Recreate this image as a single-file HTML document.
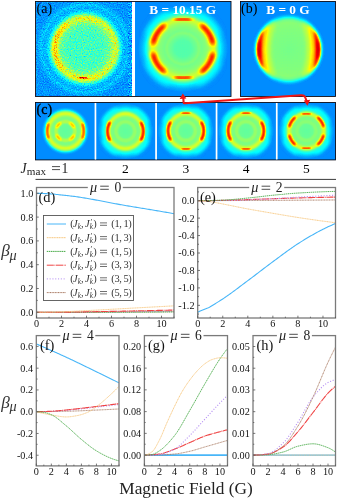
<!DOCTYPE html>
<html><head><meta charset="utf-8"><title>fig</title>
<style>html,body{margin:0;padding:0;background:#fff;overflow:hidden}svg{display:block}text{font-family:"Liberation Serif",serif}</style>
</head><body>
<svg width="337" height="500" viewBox="0 0 337 500" style="opacity:0.9999">
<defs>
<filter id="jet" x="0" y="0" width="100%" height="100%" color-interpolation-filters="sRGB"><feComponentTransfer>
<feFuncR type="table" tableValues="0 0 0 0 .5 1 1 1 .5"/>
<feFuncG type="table" tableValues="0 0 .5 1 1 1 .5 0 0"/>
<feFuncB type="table" tableValues=".5 1 1 1 .5 0 0 0 0"/>
</feComponentTransfer></filter>
<filter id="jetn" x="0" y="0" width="100%" height="100%" color-interpolation-filters="sRGB">
<feTurbulence type="fractalNoise" baseFrequency="0.85" numOctaves="2" seed="7" result="t"/>
<feColorMatrix in="t" type="matrix" values="1.2 0 0 0 -0.1  1.2 0 0 0 -0.1  1.2 0 0 0 -0.1  0 0 0 0 1" result="n"/>
<feComposite in="SourceGraphic" in2="n" operator="arithmetic" k1="0.6" k2="0.7" k3="0" k4="0"/>
<feComponentTransfer>
<feFuncR type="table" tableValues="0 0 0 0 .5 1 1 1 .5"/>
<feFuncG type="table" tableValues="0 0 .5 1 1 1 .5 0 0"/>
<feFuncB type="table" tableValues=".5 1 1 1 .5 0 0 0 0"/>
</feComponentTransfer></filter>
<filter id="jetn2" x="0" y="0" width="100%" height="100%" color-interpolation-filters="sRGB">
<feTurbulence type="fractalNoise" baseFrequency="0.9" numOctaves="2" seed="3" result="t"/>
<feColorMatrix in="t" type="matrix" values="1.2 0 0 0 -0.1  1.2 0 0 0 -0.1  1.2 0 0 0 -0.1  0 0 0 0 1" result="n"/>
<feComposite in="SourceGraphic" in2="n" operator="arithmetic" k1="1.5" k2="0.27" k3="0" k4="0"/>
<feComponentTransfer>
<feFuncR type="table" tableValues="0 0 0 0 .5 1 1 1 .5"/>
<feFuncG type="table" tableValues="0 0 .5 1 1 1 .5 0 0"/>
<feFuncB type="table" tableValues=".5 1 1 1 .5 0 0 0 0"/>
</feComponentTransfer></filter>
<filter id="b0_6" x="-50%" y="-50%" width="200%" height="200%" color-interpolation-filters="sRGB"><feGaussianBlur stdDeviation="0.6"/></filter>
<filter id="b0_8" x="-50%" y="-50%" width="200%" height="200%" color-interpolation-filters="sRGB"><feGaussianBlur stdDeviation="0.8"/></filter>
<filter id="b1" x="-50%" y="-50%" width="200%" height="200%" color-interpolation-filters="sRGB"><feGaussianBlur stdDeviation="1"/></filter>
<filter id="b1_2" x="-50%" y="-50%" width="200%" height="200%" color-interpolation-filters="sRGB"><feGaussianBlur stdDeviation="1.2"/></filter>
<filter id="b1_5" x="-50%" y="-50%" width="200%" height="200%" color-interpolation-filters="sRGB"><feGaussianBlur stdDeviation="1.5"/></filter>
<filter id="b2" x="-50%" y="-50%" width="200%" height="200%" color-interpolation-filters="sRGB"><feGaussianBlur stdDeviation="2"/></filter>
<filter id="b3" x="-50%" y="-50%" width="200%" height="200%" color-interpolation-filters="sRGB"><feGaussianBlur stdDeviation="3"/></filter>
<filter id="b4" x="-50%" y="-50%" width="200%" height="200%" color-interpolation-filters="sRGB"><feGaussianBlur stdDeviation="4"/></filter>
</defs>
<rect width="337" height="500" fill="#fff"/>
<clipPath id="cA"><rect x="36" y="1.5" width="96" height="94.5"/></clipPath>
<g clip-path="url(#cA)"><g filter="url(#jetn)">
<rect x="30" y="0" width="110" height="100" fill="rgb(69,69,69)"/>
<radialGradient id="rg1" gradientUnits="userSpaceOnUse" cx="0" cy="0" r="49"><stop offset="0.0000" stop-color="rgb(111,111,111)"/><stop offset="0.3673" stop-color="rgb(112,112,112)"/><stop offset="0.4898" stop-color="rgb(121,121,121)"/><stop offset="0.5714" stop-color="rgb(140,140,140)"/><stop offset="0.6224" stop-color="rgb(149,149,149)"/><stop offset="0.6633" stop-color="rgb(143,143,143)"/><stop offset="0.7041" stop-color="rgb(115,115,115)"/><stop offset="0.7449" stop-color="rgb(92,92,92)"/><stop offset="0.7959" stop-color="rgb(78,78,78)"/><stop offset="0.8469" stop-color="rgb(76,76,76)"/><stop offset="0.8878" stop-color="rgb(83,83,83)"/><stop offset="0.9388" stop-color="rgb(76,76,76)"/><stop offset="1.0000" stop-color="rgb(69,69,69)"/></radialGradient>
<g transform="translate(85,48.5) scale(1.0,1.0)"><circle cx="0" cy="0" r="49" fill="url(#rg1)"/></g>
<path d="M63.79,69.71A30,30 0 0 1 67.79,23.93" fill="none" stroke="rgb(176,176,176)" stroke-width="3.6" filter="url(#b1_5)"/>
<path d="M100.00,74.48A30,30 0 0 1 67.79,73.07" fill="none" stroke="rgb(161,161,161)" stroke-width="3" filter="url(#b1_5)"/>
<path d="M77.24,19.52A30,30 0 0 1 95.26,20.31" fill="none" stroke="rgb(163,163,163)" stroke-width="3" filter="url(#b1_5)"/>
<path d="M87.57,77.89A29.5,29.5 0 0 1 79.37,77.46" fill="none" stroke="rgb(242,242,242)" stroke-width="2.8" filter="url(#b1)"/>
</g></g>
<clipPath id="cA2"><rect x="127.6" y="1.5" width="4.4" height="94.5"/></clipPath>
<g clip-path="url(#cA2)"><g filter="url(#jetn2)">
<rect x="120" y="0" width="20" height="100" fill="rgb(71,71,71)"/>
</g></g>
<clipPath id="cB"><rect x="135" y="1.5" width="96" height="94.5"/></clipPath>
<g clip-path="url(#cB)"><g filter="url(#jet)">
<rect x="130" y="-3.5" width="106" height="104.5" fill="rgb(67,67,67)"/>
<radialGradient id="rg2" gradientUnits="userSpaceOnUse" cx="0" cy="0" r="43.5"><stop offset="0.0000" stop-color="rgb(116,116,116)"/><stop offset="0.1839" stop-color="rgb(117,117,117)"/><stop offset="0.2989" stop-color="rgb(124,124,124)"/><stop offset="0.3563" stop-color="rgb(129,129,129)"/><stop offset="0.4138" stop-color="rgb(125,125,125)"/><stop offset="0.5057" stop-color="rgb(129,129,129)"/><stop offset="0.5747" stop-color="rgb(135,135,135)"/><stop offset="0.6552" stop-color="rgb(149,149,149)"/><stop offset="0.7011" stop-color="rgb(148,148,148)"/><stop offset="0.7471" stop-color="rgb(128,128,128)"/><stop offset="0.7931" stop-color="rgb(107,107,107)"/><stop offset="0.8506" stop-color="rgb(89,89,89)"/><stop offset="0.9195" stop-color="rgb(76,76,76)"/><stop offset="1.0000" stop-color="rgb(67,67,67)"/></radialGradient>
<g transform="translate(183,48.6) scale(1.035,1.0)"><circle cx="0" cy="0" r="43.5" fill="url(#rg2)"/></g>
<path d="M198.85,14.61A37.5,37.5 0 0 1 216.99,32.75" fill="none" stroke="rgb(102,102,102)" stroke-width="5" stroke-linecap="round" filter="url(#b3)"/>
<path d="M216.99,64.45A37.5,37.5 0 0 1 198.85,82.59" fill="none" stroke="rgb(102,102,102)" stroke-width="5" stroke-linecap="round" filter="url(#b3)"/>
<path d="M167.15,82.59A37.5,37.5 0 0 1 149.01,64.45" fill="none" stroke="rgb(102,102,102)" stroke-width="5" stroke-linecap="round" filter="url(#b3)"/>
<path d="M149.01,32.75A37.5,37.5 0 0 1 167.15,14.61" fill="none" stroke="rgb(102,102,102)" stroke-width="5" stroke-linecap="round" filter="url(#b3)"/>
<g transform="translate(183,48.6) scale(1.035,1.0)">
<path d="M17.28,-23.79A29.4,29.4 0 0 1 29.11,-4.09" fill="none" stroke="rgb(247,247,247)" stroke-width="4.3" stroke-linecap="butt" filter="url(#b2)"/>
<path d="M29.11,4.09A29.4,29.4 0 0 1 17.28,23.79" fill="none" stroke="rgb(247,247,247)" stroke-width="4.3" stroke-linecap="butt" filter="url(#b2)"/>
<path d="M-17.28,23.79A29.4,29.4 0 0 1 -29.11,4.09" fill="none" stroke="rgb(247,247,247)" stroke-width="4.3" stroke-linecap="butt" filter="url(#b2)"/>
<path d="M-29.11,-4.09A29.4,29.4 0 0 1 -17.28,-23.79" fill="none" stroke="rgb(247,247,247)" stroke-width="4.3" stroke-linecap="butt" filter="url(#b2)"/>
<path d="M-8.10,-28.26A29.4,29.4 0 0 1 8.10,-28.26" fill="none" stroke="rgb(245,245,245)" stroke-width="3.5" stroke-linecap="butt" filter="url(#b2)"/>
<path d="M8.10,28.26A29.4,29.4 0 0 1 -8.10,28.26" fill="none" stroke="rgb(245,245,245)" stroke-width="3.5" stroke-linecap="butt" filter="url(#b2)"/>
</g>
</g></g>
<clipPath id="cC"><rect x="240.5" y="1.5" width="95" height="94.5"/></clipPath>
<g clip-path="url(#cC)"><g filter="url(#jet)">
<rect x="235" y="0" width="105" height="100" fill="rgb(67,67,67)"/>
<radialGradient id="rg3" gradientUnits="userSpaceOnUse" cx="0" cy="0" r="36.5"><stop offset="0.0000" stop-color="rgb(125,125,125)"/><stop offset="0.5479" stop-color="rgb(128,128,128)"/><stop offset="0.7397" stop-color="rgb(130,130,130)"/><stop offset="0.8082" stop-color="rgb(125,125,125)"/><stop offset="0.8630" stop-color="rgb(107,107,107)"/><stop offset="0.9041" stop-color="rgb(87,87,87)"/><stop offset="0.9589" stop-color="rgb(71,71,71)"/><stop offset="1.0000" stop-color="rgb(67,67,67)"/></radialGradient>
<g transform="translate(288.6,49.4) scale(1.0,0.995)"><circle cx="0" cy="0" r="36.5" fill="url(#rg3)"/></g>
<g transform="translate(288.6,49.4) rotate(0) scale(1,0.99)">
<path d="M12.69,-28.50A31.2,31.2 0 0 1 12.69,28.50A76.48,76.48 0 0 0 12.69,-28.50Z" fill="rgb(147,147,147)" filter="url(#b2)"/>
<path d="M19.33,-24.74A31.4,31.4 0 0 1 19.33,24.74A87.57,87.57 0 0 0 19.33,-24.74Z" fill="rgb(173,173,173)" filter="url(#b1_5)"/>
<path d="M24.90,-19.45A31.6,31.6 0 0 1 24.90,19.45A112.25,112.25 0 0 0 24.90,-19.45Z" fill="rgb(222,222,222)" filter="url(#b1_2)"/>
<path d="M28.57,-10.97A30.6,30.6 0 0 1 28.57,10.97A258.80,258.80 0 0 0 28.57,-10.97Z" fill="rgb(245,245,245)" filter="url(#b0_8)"/>
</g>
<g transform="translate(288.6,49.4) rotate(180) scale(1,0.99)">
<path d="M12.69,-28.50A31.2,31.2 0 0 1 12.69,28.50A76.48,76.48 0 0 0 12.69,-28.50Z" fill="rgb(147,147,147)" filter="url(#b2)"/>
<path d="M19.33,-24.74A31.4,31.4 0 0 1 19.33,24.74A87.57,87.57 0 0 0 19.33,-24.74Z" fill="rgb(173,173,173)" filter="url(#b1_5)"/>
<path d="M24.90,-19.45A31.6,31.6 0 0 1 24.90,19.45A112.25,112.25 0 0 0 24.90,-19.45Z" fill="rgb(222,222,222)" filter="url(#b1_2)"/>
<path d="M28.57,-10.97A30.6,30.6 0 0 1 28.57,10.97A258.80,258.80 0 0 0 28.57,-10.97Z" fill="rgb(245,245,245)" filter="url(#b0_8)"/>
</g>
</g></g>
<clipPath id="c1"><rect x="35.5" y="102.5" width="59.5" height="57.4"/></clipPath>
<g clip-path="url(#c1)"><g filter="url(#jet)">
<rect x="30.5" y="97.5" width="69.5" height="67.4" fill="rgb(67,67,67)"/>
<radialGradient id="rg4" gradientUnits="userSpaceOnUse" cx="0" cy="0" r="24"><stop offset="0.0000" stop-color="rgb(120,120,120)"/><stop offset="0.2667" stop-color="rgb(122,122,122)"/><stop offset="0.3583" stop-color="rgb(139,139,139)"/><stop offset="0.4250" stop-color="rgb(139,139,139)"/><stop offset="0.5000" stop-color="rgb(126,126,126)"/><stop offset="0.5833" stop-color="rgb(128,128,128)"/><stop offset="0.6458" stop-color="rgb(139,139,139)"/><stop offset="0.7000" stop-color="rgb(150,150,150)"/><stop offset="0.7500" stop-color="rgb(149,149,149)"/><stop offset="0.8000" stop-color="rgb(135,135,135)"/><stop offset="0.8417" stop-color="rgb(115,115,115)"/><stop offset="0.8875" stop-color="rgb(87,87,87)"/><stop offset="0.9500" stop-color="rgb(72,72,72)"/><stop offset="1.0000" stop-color="rgb(67,67,67)"/></radialGradient>
<g transform="translate(65.5,131.0) scale(1.0,1.0)"><circle cx="0" cy="0" r="24" fill="url(#rg4)"/></g>
<path d="M56.67,127.09A9.6,9.6 0 0 1 60.21,123.16" fill="none" stroke="rgb(199,199,199)" stroke-width="1.8" stroke-linecap="round" filter="url(#b0_8)"/>
<path d="M70.39,123.16A9.6,9.6 0 0 1 73.93,127.09" fill="none" stroke="rgb(199,199,199)" stroke-width="1.8" stroke-linecap="round" filter="url(#b0_8)"/>
<path d="M73.93,135.51A9.6,9.6 0 0 1 70.39,139.44" fill="none" stroke="rgb(199,199,199)" stroke-width="1.8" stroke-linecap="round" filter="url(#b0_8)"/>
<path d="M60.21,139.44A9.6,9.6 0 0 1 56.67,135.51" fill="none" stroke="rgb(199,199,199)" stroke-width="1.8" stroke-linecap="round" filter="url(#b0_8)"/>
<g transform="translate(65.5,131.0) scale(1.0,1.0)">
<path d="M16.68,-7.78A18.4,18.4 0 0 1 16.68,7.78" fill="none" stroke="rgb(224,224,224)" stroke-width="2.2" stroke-linecap="butt" filter="url(#b0_8)"/>
<path d="M-16.68,7.78A18.4,18.4 0 0 1 -16.68,-7.78" fill="none" stroke="rgb(224,224,224)" stroke-width="2.2" stroke-linecap="butt" filter="url(#b0_8)"/>
</g>
</g></g>
<clipPath id="c2"><rect x="96" y="102.5" width="60" height="57.4"/></clipPath>
<g clip-path="url(#c2)"><g filter="url(#jet)">
<rect x="91" y="97.5" width="70" height="67.4" fill="rgb(67,67,67)"/>
<radialGradient id="rg5" gradientUnits="userSpaceOnUse" cx="0" cy="0" r="28"><stop offset="0.0000" stop-color="rgb(120,120,120)"/><stop offset="0.2286" stop-color="rgb(122,122,122)"/><stop offset="0.3071" stop-color="rgb(133,133,133)"/><stop offset="0.3643" stop-color="rgb(133,133,133)"/><stop offset="0.4286" stop-color="rgb(126,126,126)"/><stop offset="0.5000" stop-color="rgb(128,128,128)"/><stop offset="0.5536" stop-color="rgb(139,139,139)"/><stop offset="0.6000" stop-color="rgb(150,150,150)"/><stop offset="0.6429" stop-color="rgb(149,149,149)"/><stop offset="0.6857" stop-color="rgb(135,135,135)"/><stop offset="0.7214" stop-color="rgb(115,115,115)"/><stop offset="0.7679" stop-color="rgb(102,102,102)"/><stop offset="0.8393" stop-color="rgb(88,88,88)"/><stop offset="0.9107" stop-color="rgb(76,76,76)"/><stop offset="1.0000" stop-color="rgb(67,67,67)"/></radialGradient>
<g transform="translate(125.4,131.2) scale(1.0,1.0)"><circle cx="0" cy="0" r="28" fill="url(#rg5)"/></g>
<path d="M135.33,109.90A23.5,23.5 0 0 1 146.70,121.27" fill="none" stroke="rgb(105,105,105)" stroke-width="3.5" stroke-linecap="round" filter="url(#b2)"/>
<path d="M146.70,141.13A23.5,23.5 0 0 1 135.33,152.50" fill="none" stroke="rgb(105,105,105)" stroke-width="3.5" stroke-linecap="round" filter="url(#b2)"/>
<path d="M115.47,152.50A23.5,23.5 0 0 1 104.10,141.13" fill="none" stroke="rgb(105,105,105)" stroke-width="3.5" stroke-linecap="round" filter="url(#b2)"/>
<path d="M104.10,121.27A23.5,23.5 0 0 1 115.47,109.90" fill="none" stroke="rgb(105,105,105)" stroke-width="3.5" stroke-linecap="round" filter="url(#b2)"/>
<g transform="translate(125.4,131.2) scale(1.0,1.0)">
<path d="M15.26,-9.54A18.0,18.0 0 0 1 15.26,9.54" fill="none" stroke="rgb(237,237,237)" stroke-width="2.8" stroke-linecap="butt" filter="url(#b0_8)"/>
<path d="M-15.26,9.54A18.0,18.0 0 0 1 -15.26,-9.54" fill="none" stroke="rgb(237,237,237)" stroke-width="2.8" stroke-linecap="butt" filter="url(#b0_8)"/>
</g>
</g></g>
<clipPath id="c3"><rect x="156.5" y="102.5" width="60" height="57.4"/></clipPath>
<g clip-path="url(#c3)"><g filter="url(#jet)">
<rect x="151.5" y="97.5" width="70" height="67.4" fill="rgb(67,67,67)"/>
<radialGradient id="rg6" gradientUnits="userSpaceOnUse" cx="0" cy="0" r="28"><stop offset="0.0000" stop-color="rgb(120,120,120)"/><stop offset="0.2286" stop-color="rgb(122,122,122)"/><stop offset="0.3071" stop-color="rgb(133,133,133)"/><stop offset="0.3643" stop-color="rgb(133,133,133)"/><stop offset="0.4286" stop-color="rgb(126,126,126)"/><stop offset="0.5000" stop-color="rgb(128,128,128)"/><stop offset="0.5536" stop-color="rgb(139,139,139)"/><stop offset="0.6000" stop-color="rgb(150,150,150)"/><stop offset="0.6429" stop-color="rgb(149,149,149)"/><stop offset="0.6857" stop-color="rgb(135,135,135)"/><stop offset="0.7214" stop-color="rgb(115,115,115)"/><stop offset="0.7679" stop-color="rgb(102,102,102)"/><stop offset="0.8393" stop-color="rgb(88,88,88)"/><stop offset="0.9107" stop-color="rgb(76,76,76)"/><stop offset="1.0000" stop-color="rgb(67,67,67)"/></radialGradient>
<g transform="translate(185.9,131.0) scale(1.0,1.0)"><circle cx="0" cy="0" r="28" fill="url(#rg6)"/></g>
<path d="M195.83,109.70A23.5,23.5 0 0 1 207.20,121.07" fill="none" stroke="rgb(105,105,105)" stroke-width="3.5" stroke-linecap="round" filter="url(#b2)"/>
<path d="M207.20,140.93A23.5,23.5 0 0 1 195.83,152.30" fill="none" stroke="rgb(105,105,105)" stroke-width="3.5" stroke-linecap="round" filter="url(#b2)"/>
<path d="M175.97,152.30A23.5,23.5 0 0 1 164.60,140.93" fill="none" stroke="rgb(105,105,105)" stroke-width="3.5" stroke-linecap="round" filter="url(#b2)"/>
<path d="M164.60,121.07A23.5,23.5 0 0 1 175.97,109.70" fill="none" stroke="rgb(105,105,105)" stroke-width="3.5" stroke-linecap="round" filter="url(#b2)"/>
<g transform="translate(185.9,131.0) scale(1.0,1.0)">
<path d="M15.18,-9.49A17.9,17.9 0 0 1 15.18,9.49" fill="none" stroke="rgb(237,237,237)" stroke-width="2.8" stroke-linecap="butt" filter="url(#b0_8)"/>
<path d="M-15.18,9.49A17.9,17.9 0 0 1 -15.18,-9.49" fill="none" stroke="rgb(237,237,237)" stroke-width="2.8" stroke-linecap="butt" filter="url(#b0_8)"/>
<path d="M-4.33,-17.37A17.9,17.9 0 0 1 4.33,-17.37" fill="none" stroke="rgb(230,230,230)" stroke-width="2.2" stroke-linecap="butt" filter="url(#b0_8)"/>
<path d="M4.33,17.37A17.9,17.9 0 0 1 -4.33,17.37" fill="none" stroke="rgb(230,230,230)" stroke-width="2.2" stroke-linecap="butt" filter="url(#b0_8)"/>
</g>
</g></g>
<clipPath id="c4"><rect x="217" y="102.5" width="59.5" height="57.4"/></clipPath>
<g clip-path="url(#c4)"><g filter="url(#jet)">
<rect x="212" y="97.5" width="69.5" height="67.4" fill="rgb(67,67,67)"/>
<radialGradient id="rg7" gradientUnits="userSpaceOnUse" cx="0" cy="0" r="28"><stop offset="0.0000" stop-color="rgb(120,120,120)"/><stop offset="0.2286" stop-color="rgb(122,122,122)"/><stop offset="0.3071" stop-color="rgb(133,133,133)"/><stop offset="0.3643" stop-color="rgb(133,133,133)"/><stop offset="0.4286" stop-color="rgb(126,126,126)"/><stop offset="0.5000" stop-color="rgb(128,128,128)"/><stop offset="0.5536" stop-color="rgb(139,139,139)"/><stop offset="0.6000" stop-color="rgb(150,150,150)"/><stop offset="0.6429" stop-color="rgb(149,149,149)"/><stop offset="0.6857" stop-color="rgb(135,135,135)"/><stop offset="0.7214" stop-color="rgb(115,115,115)"/><stop offset="0.7679" stop-color="rgb(102,102,102)"/><stop offset="0.8393" stop-color="rgb(88,88,88)"/><stop offset="0.9107" stop-color="rgb(76,76,76)"/><stop offset="1.0000" stop-color="rgb(67,67,67)"/></radialGradient>
<g transform="translate(246.0,131.0) scale(1.0,1.0)"><circle cx="0" cy="0" r="28" fill="url(#rg7)"/></g>
<path d="M255.93,109.70A23.5,23.5 0 0 1 267.30,121.07" fill="none" stroke="rgb(105,105,105)" stroke-width="3.5" stroke-linecap="round" filter="url(#b2)"/>
<path d="M267.30,140.93A23.5,23.5 0 0 1 255.93,152.30" fill="none" stroke="rgb(105,105,105)" stroke-width="3.5" stroke-linecap="round" filter="url(#b2)"/>
<path d="M236.07,152.30A23.5,23.5 0 0 1 224.70,140.93" fill="none" stroke="rgb(105,105,105)" stroke-width="3.5" stroke-linecap="round" filter="url(#b2)"/>
<path d="M224.70,121.07A23.5,23.5 0 0 1 236.07,109.70" fill="none" stroke="rgb(105,105,105)" stroke-width="3.5" stroke-linecap="round" filter="url(#b2)"/>
<g transform="translate(246.0,131.0) scale(1.0,1.0)">
<path d="M15.18,-9.49A17.9,17.9 0 0 1 15.18,9.49" fill="none" stroke="rgb(237,237,237)" stroke-width="2.8" stroke-linecap="butt" filter="url(#b0_8)"/>
<path d="M-15.18,9.49A17.9,17.9 0 0 1 -15.18,-9.49" fill="none" stroke="rgb(237,237,237)" stroke-width="2.8" stroke-linecap="butt" filter="url(#b0_8)"/>
<path d="M-4.33,-17.37A17.9,17.9 0 0 1 4.33,-17.37" fill="none" stroke="rgb(230,230,230)" stroke-width="2.2" stroke-linecap="butt" filter="url(#b0_8)"/>
<path d="M4.33,17.37A17.9,17.9 0 0 1 -4.33,17.37" fill="none" stroke="rgb(230,230,230)" stroke-width="2.2" stroke-linecap="butt" filter="url(#b0_8)"/>
</g>
</g></g>
<clipPath id="c5"><rect x="277" y="102.5" width="58.5" height="57.4"/></clipPath>
<g clip-path="url(#c5)"><g filter="url(#jet)">
<rect x="272" y="97.5" width="68.5" height="67.4" fill="rgb(67,67,67)"/>
<radialGradient id="rg8" gradientUnits="userSpaceOnUse" cx="0" cy="0" r="28"><stop offset="0.0000" stop-color="rgb(120,120,120)"/><stop offset="0.2286" stop-color="rgb(122,122,122)"/><stop offset="0.3071" stop-color="rgb(130,130,130)"/><stop offset="0.3643" stop-color="rgb(130,130,130)"/><stop offset="0.4286" stop-color="rgb(126,126,126)"/><stop offset="0.5000" stop-color="rgb(128,128,128)"/><stop offset="0.5536" stop-color="rgb(139,139,139)"/><stop offset="0.6000" stop-color="rgb(150,150,150)"/><stop offset="0.6429" stop-color="rgb(149,149,149)"/><stop offset="0.6857" stop-color="rgb(135,135,135)"/><stop offset="0.7214" stop-color="rgb(115,115,115)"/><stop offset="0.7679" stop-color="rgb(102,102,102)"/><stop offset="0.8393" stop-color="rgb(88,88,88)"/><stop offset="0.9107" stop-color="rgb(76,76,76)"/><stop offset="1.0000" stop-color="rgb(67,67,67)"/></radialGradient>
<g transform="translate(306.4,131.0) scale(1.0,1.0)"><circle cx="0" cy="0" r="28" fill="url(#rg8)"/></g>
<path d="M316.33,109.70A23.5,23.5 0 0 1 327.70,121.07" fill="none" stroke="rgb(105,105,105)" stroke-width="3.5" stroke-linecap="round" filter="url(#b2)"/>
<path d="M327.70,140.93A23.5,23.5 0 0 1 316.33,152.30" fill="none" stroke="rgb(105,105,105)" stroke-width="3.5" stroke-linecap="round" filter="url(#b2)"/>
<path d="M296.47,152.30A23.5,23.5 0 0 1 285.10,140.93" fill="none" stroke="rgb(105,105,105)" stroke-width="3.5" stroke-linecap="round" filter="url(#b2)"/>
<path d="M285.10,121.07A23.5,23.5 0 0 1 296.47,109.70" fill="none" stroke="rgb(105,105,105)" stroke-width="3.5" stroke-linecap="round" filter="url(#b2)"/>
<g transform="translate(306.4,131.0) scale(1.0,1.0)">
<path d="M10.90,-13.95A17.7,17.7 0 0 1 17.31,-3.68" fill="none" stroke="rgb(235,235,235)" stroke-width="2.6" stroke-linecap="butt" filter="url(#b0_8)"/>
<path d="M17.31,3.68A17.7,17.7 0 0 1 10.90,13.95" fill="none" stroke="rgb(235,235,235)" stroke-width="2.6" stroke-linecap="butt" filter="url(#b0_8)"/>
<path d="M-10.90,13.95A17.7,17.7 0 0 1 -17.31,3.68" fill="none" stroke="rgb(235,235,235)" stroke-width="2.6" stroke-linecap="butt" filter="url(#b0_8)"/>
<path d="M-17.31,-3.68A17.7,17.7 0 0 1 -10.90,-13.95" fill="none" stroke="rgb(235,235,235)" stroke-width="2.6" stroke-linecap="butt" filter="url(#b0_8)"/>
<path d="M-4.28,-17.17A17.7,17.7 0 0 1 4.28,-17.17" fill="none" stroke="rgb(230,230,230)" stroke-width="2.2" stroke-linecap="butt" filter="url(#b0_8)"/>
<path d="M4.28,17.17A17.7,17.7 0 0 1 -4.28,17.17" fill="none" stroke="rgb(230,230,230)" stroke-width="2.2" stroke-linecap="butt" filter="url(#b0_8)"/>
</g>
</g></g>
<rect x="35.5" y="1.5" width="195.5" height="95.0" fill="none" stroke="#0c0c18" stroke-width="0.9"/>
<rect x="240.5" y="1.5" width="95.0" height="95.0" fill="none" stroke="#0c0c18" stroke-width="0.9"/>
<rect x="35.5" y="102.5" width="300.0" height="57.400000000000006" fill="none" stroke="#0c0c18" stroke-width="0.9"/>
<rect x="132" y="2" width="3" height="94" fill="#fff"/>
<rect x="94.6" y="103" width="1.7" height="56.4" fill="#fff"/>
<rect x="155.2" y="103" width="1.7" height="56.4" fill="#fff"/>
<rect x="215.7" y="103" width="1.7" height="56.4" fill="#fff"/>
<rect x="275.9" y="103" width="1.7" height="56.4" fill="#fff"/>
<text x="36.5" y="12.6" font-size="14">(a)</text>
<text x="241" y="12.6" font-size="14">(b)</text>
<text x="36.5" y="113.6" font-size="14" stroke="#000" stroke-width="0.3">(c)</text>
<text x="149.3" y="14" font-size="13.3" font-weight="bold" fill="#fff">B = 10.15 G</text>
<text x="266.2" y="14" font-size="13.3" font-weight="bold" fill="#fff">B = 0 G</text>
<path d="M183.2,96 L183.6,102.3 Q183.7,103.3 185,103.2 L301,95.3 Q304.5,95 305.3,97.5 L306.6,101" fill="none" stroke="#ee1515" stroke-width="2.1" stroke-linejoin="round"/>
<path d="M182.8,93.4 L186.4,98.6 L179.6,98.9 Z" fill="#ee1515"/>
<path d="M307.4,105.8 L303.8,100.4 L310.2,99.7 Z" fill="#ee1515"/>
<text y="172.7" font-size="13.6" fill="#222"><tspan x="20.6" font-style="italic">J</tspan><tspan x="26.8" font-size="10.6" dy="2.6" textLength="19.2" lengthAdjust="spacingAndGlyphs">max</tspan><tspan dy="-2.6" x="61.6">1</tspan></text>
<path d="M52,166.6h8M52,169.6h8" stroke="#222" stroke-width="0.8" fill="none"/>
<text x="125.3" y="172.7" font-size="13.5" text-anchor="middle">2</text>
<text x="185.8" y="172.7" font-size="13.5" text-anchor="middle">3</text>
<text x="246.0" y="172.7" font-size="13.5" text-anchor="middle">4</text>
<text x="306.4" y="172.7" font-size="13.5" text-anchor="middle">5</text>
<line x1="35.5" y1="179.4" x2="336" y2="179.4" stroke="#3a3a3a" stroke-width="1"/>
<clipPath id="pd"><rect x="36.5" y="187.5" width="137.5" height="130.5"/></clipPath>
<g clip-path="url(#pd)" fill="none" stroke-linejoin="round">
<path d="M36.50,312.30 L37.75,312.30 L39.00,312.30 L40.25,312.29 L41.50,312.29 L42.75,312.29 L44.00,312.29 L45.25,312.28 L46.50,312.28 L47.75,312.28 L49.00,312.28 L50.25,312.27 L51.50,312.27 L52.75,312.27 L54.00,312.26 L55.25,312.26 L56.50,312.26 L57.75,312.25 L59.00,312.25 L60.25,312.25 L61.50,312.24 L62.75,312.24 L64.00,312.23 L65.25,312.23 L66.50,312.23 L67.75,312.22 L69.00,312.22 L70.25,312.21 L71.50,312.21 L72.75,312.21 L74.00,312.20 L75.25,312.20 L76.50,312.19 L77.75,312.19 L79.00,312.18 L80.25,312.18 L81.50,312.18 L82.75,312.17 L84.00,312.17 L85.25,312.16 L86.50,312.16 L87.75,312.15 L89.00,312.15 L90.25,312.14 L91.50,312.14 L92.75,312.13 L94.00,312.13 L95.25,312.12 L96.50,312.12 L97.75,312.11 L99.00,312.10 L100.25,312.10 L101.50,312.09 L102.75,312.08 L104.00,312.08 L105.25,312.07 L106.50,312.07 L107.75,312.06 L109.00,312.05 L110.25,312.04 L111.50,312.04 L112.75,312.03 L114.00,312.02 L115.25,312.02 L116.50,312.01 L117.75,312.00 L119.00,311.99 L120.25,311.99 L121.50,311.98 L122.75,311.97 L124.00,311.96 L125.25,311.96 L126.50,311.95 L127.75,311.94 L129.00,311.93 L130.25,311.92 L131.50,311.92 L132.75,311.91 L134.00,311.90 L135.25,311.89 L136.50,311.88 L137.75,311.88 L139.00,311.87 L140.25,311.86 L141.50,311.85 L142.75,311.84 L144.00,311.83 L145.25,311.82 L146.50,311.81 L147.75,311.80 L149.00,311.80 L150.25,311.79 L151.50,311.78 L152.75,311.77 L154.00,311.76 L155.25,311.75 L156.50,311.74 L157.75,311.73 L159.00,311.72 L160.25,311.71 L161.50,311.69 L162.75,311.68 L164.00,311.67 L165.25,311.66 L166.50,311.65 L167.75,311.64 L169.00,311.63 L170.25,311.62 L171.50,311.61 L172.75,311.60 L174.00,311.59" stroke="#a7775f" stroke-width="0.9" stroke-dasharray="1.1,0.5"/>
<path d="M36.50,312.30 L37.75,312.30 L39.00,312.30 L40.25,312.30 L41.50,312.30 L42.75,312.30 L44.00,312.29 L45.25,312.29 L46.50,312.29 L47.75,312.29 L49.00,312.28 L50.25,312.28 L51.50,312.28 L52.75,312.27 L54.00,312.27 L55.25,312.27 L56.50,312.26 L57.75,312.26 L59.00,312.25 L60.25,312.25 L61.50,312.24 L62.75,312.24 L64.00,312.23 L65.25,312.23 L66.50,312.22 L67.75,312.22 L69.00,312.21 L70.25,312.21 L71.50,312.20 L72.75,312.19 L74.00,312.19 L75.25,312.18 L76.50,312.17 L77.75,312.17 L79.00,312.16 L80.25,312.15 L81.50,312.15 L82.75,312.14 L84.00,312.13 L85.25,312.13 L86.50,312.12 L87.75,312.11 L89.00,312.11 L90.25,312.10 L91.50,312.09 L92.75,312.08 L94.00,312.07 L95.25,312.06 L96.50,312.05 L97.75,312.04 L99.00,312.03 L100.25,312.02 L101.50,312.01 L102.75,311.99 L104.00,311.98 L105.25,311.97 L106.50,311.96 L107.75,311.94 L109.00,311.93 L110.25,311.92 L111.50,311.90 L112.75,311.89 L114.00,311.87 L115.25,311.86 L116.50,311.84 L117.75,311.83 L119.00,311.81 L120.25,311.80 L121.50,311.78 L122.75,311.76 L124.00,311.75 L125.25,311.73 L126.50,311.72 L127.75,311.70 L129.00,311.68 L130.25,311.67 L131.50,311.65 L132.75,311.63 L134.00,311.62 L135.25,311.60 L136.50,311.59 L137.75,311.57 L139.00,311.55 L140.25,311.54 L141.50,311.52 L142.75,311.50 L144.00,311.48 L145.25,311.47 L146.50,311.45 L147.75,311.43 L149.00,311.41 L150.25,311.39 L151.50,311.37 L152.75,311.35 L154.00,311.33 L155.25,311.31 L156.50,311.29 L157.75,311.27 L159.00,311.25 L160.25,311.23 L161.50,311.21 L162.75,311.19 L164.00,311.17 L165.25,311.15 L166.50,311.12 L167.75,311.10 L169.00,311.08 L170.25,311.06 L171.50,311.04 L172.75,311.01 L174.00,310.99" stroke="#b690f3" stroke-width="1.1" stroke-dasharray="1.1,1.7"/>
<path d="M36.50,312.30 L37.75,312.30 L39.00,312.30 L40.25,312.30 L41.50,312.30 L42.75,312.30 L44.00,312.30 L45.25,312.30 L46.50,312.30 L47.75,312.30 L49.00,312.30 L50.25,312.30 L51.50,312.30 L52.75,312.30 L54.00,312.30 L55.25,312.30 L56.50,312.30 L57.75,312.30 L59.00,312.30 L60.25,312.30 L61.50,312.30 L62.75,312.30 L64.00,312.30 L65.25,312.30 L66.50,312.30 L67.75,312.30 L69.00,312.30 L70.25,312.30 L71.50,312.30 L72.75,312.30 L74.00,312.30 L75.25,312.30 L76.50,312.30 L77.75,312.30 L79.00,312.30 L80.25,312.30 L81.50,312.30 L82.75,312.30 L84.00,312.30 L85.25,312.30 L86.50,312.30 L87.75,312.30 L89.00,312.30 L90.25,312.30 L91.50,312.30 L92.75,312.30 L94.00,312.30 L95.25,312.29 L96.50,312.29 L97.75,312.29 L99.00,312.29 L100.25,312.29 L101.50,312.29 L102.75,312.28 L104.00,312.28 L105.25,312.28 L106.50,312.28 L107.75,312.27 L109.00,312.27 L110.25,312.27 L111.50,312.26 L112.75,312.26 L114.00,312.26 L115.25,312.25 L116.50,312.25 L117.75,312.24 L119.00,312.24 L120.25,312.24 L121.50,312.23 L122.75,312.23 L124.00,312.22 L125.25,312.22 L126.50,312.22 L127.75,312.21 L129.00,312.21 L130.25,312.20 L131.50,312.20 L132.75,312.19 L134.00,312.19 L135.25,312.19 L136.50,312.18 L137.75,312.18 L139.00,312.17 L140.25,312.17 L141.50,312.16 L142.75,312.15 L144.00,312.15 L145.25,312.14 L146.50,312.14 L147.75,312.13 L149.00,312.12 L150.25,312.11 L151.50,312.11 L152.75,312.10 L154.00,312.09 L155.25,312.08 L156.50,312.07 L157.75,312.07 L159.00,312.06 L160.25,312.05 L161.50,312.04 L162.75,312.03 L164.00,312.02 L165.25,312.01 L166.50,312.00 L167.75,311.99 L169.00,311.98 L170.25,311.97 L171.50,311.96 L172.75,311.95 L174.00,311.94" stroke="#43a843" stroke-width="0.9" stroke-dasharray="1.5,0.6"/>
<path d="M36.50,312.30 L37.75,312.30 L39.00,312.30 L40.25,312.30 L41.50,312.29 L42.75,312.29 L44.00,312.29 L45.25,312.28 L46.50,312.28 L47.75,312.27 L49.00,312.26 L50.25,312.26 L51.50,312.25 L52.75,312.24 L54.00,312.23 L55.25,312.22 L56.50,312.22 L57.75,312.21 L59.00,312.20 L60.25,312.19 L61.50,312.18 L62.75,312.17 L64.00,312.16 L65.25,312.15 L66.50,312.13 L67.75,312.12 L69.00,312.10 L70.25,312.09 L71.50,312.07 L72.75,312.05 L74.00,312.03 L75.25,312.01 L76.50,311.99 L77.75,311.97 L79.00,311.95 L80.25,311.93 L81.50,311.91 L82.75,311.89 L84.00,311.86 L85.25,311.84 L86.50,311.82 L87.75,311.80 L89.00,311.78 L90.25,311.76 L91.50,311.74 L92.75,311.72 L94.00,311.70 L95.25,311.68 L96.50,311.66 L97.75,311.63 L99.00,311.61 L100.25,311.59 L101.50,311.57 L102.75,311.54 L104.00,311.52 L105.25,311.50 L106.50,311.47 L107.75,311.45 L109.00,311.42 L110.25,311.40 L111.50,311.38 L112.75,311.35 L114.00,311.33 L115.25,311.30 L116.50,311.28 L117.75,311.25 L119.00,311.23 L120.25,311.20 L121.50,311.18 L122.75,311.15 L124.00,311.13 L125.25,311.10 L126.50,311.08 L127.75,311.05 L129.00,311.03 L130.25,311.00 L131.50,310.97 L132.75,310.95 L134.00,310.92 L135.25,310.90 L136.50,310.87 L137.75,310.85 L139.00,310.82 L140.25,310.79 L141.50,310.77 L142.75,310.74 L144.00,310.71 L145.25,310.69 L146.50,310.66 L147.75,310.63 L149.00,310.61 L150.25,310.58 L151.50,310.55 L152.75,310.52 L154.00,310.50 L155.25,310.47 L156.50,310.44 L157.75,310.41 L159.00,310.39 L160.25,310.36 L161.50,310.33 L162.75,310.30 L164.00,310.27 L165.25,310.24 L166.50,310.21 L167.75,310.19 L169.00,310.16 L170.25,310.13 L171.50,310.10 L172.75,310.07 L174.00,310.04" stroke="#ef4444" stroke-width="1.1" stroke-dasharray="7,0.6,1,0.6"/>
<path d="M36.50,312.30 L37.75,312.29 L39.00,312.28 L40.25,312.27 L41.50,312.26 L42.75,312.24 L44.00,312.22 L45.25,312.20 L46.50,312.18 L47.75,312.16 L49.00,312.13 L50.25,312.11 L51.50,312.08 L52.75,312.05 L54.00,312.02 L55.25,311.99 L56.50,311.96 L57.75,311.92 L59.00,311.89 L60.25,311.86 L61.50,311.82 L62.75,311.79 L64.00,311.75 L65.25,311.70 L66.50,311.65 L67.75,311.60 L69.00,311.55 L70.25,311.49 L71.50,311.43 L72.75,311.37 L74.00,311.30 L75.25,311.24 L76.50,311.17 L77.75,311.10 L79.00,311.03 L80.25,310.97 L81.50,310.90 L82.75,310.83 L84.00,310.76 L85.25,310.70 L86.50,310.63 L87.75,310.57 L89.00,310.51 L90.25,310.44 L91.50,310.38 L92.75,310.31 L94.00,310.25 L95.25,310.18 L96.50,310.11 L97.75,310.05 L99.00,309.98 L100.25,309.91 L101.50,309.84 L102.75,309.77 L104.00,309.71 L105.25,309.64 L106.50,309.57 L107.75,309.50 L109.00,309.43 L110.25,309.36 L111.50,309.29 L112.75,309.22 L114.00,309.15 L115.25,309.08 L116.50,309.01 L117.75,308.94 L119.00,308.87 L120.25,308.80 L121.50,308.73 L122.75,308.66 L124.00,308.59 L125.25,308.52 L126.50,308.45 L127.75,308.38 L129.00,308.31 L130.25,308.24 L131.50,308.17 L132.75,308.10 L134.00,308.03 L135.25,307.97 L136.50,307.90 L137.75,307.83 L139.00,307.76 L140.25,307.69 L141.50,307.63 L142.75,307.56 L144.00,307.49 L145.25,307.42 L146.50,307.35 L147.75,307.29 L149.00,307.22 L150.25,307.15 L151.50,307.08 L152.75,307.02 L154.00,306.95 L155.25,306.88 L156.50,306.81 L157.75,306.75 L159.00,306.68 L160.25,306.61 L161.50,306.55 L162.75,306.48 L164.00,306.41 L165.25,306.34 L166.50,306.28 L167.75,306.21 L169.00,306.14 L170.25,306.08 L171.50,306.01 L172.75,305.94 L174.00,305.87" stroke="#f7c77f" stroke-width="0.9" stroke-dasharray="1.3,0.4"/>
<path d="M36.50,193.30 L37.75,193.32 L39.00,193.34 L40.25,193.38 L41.50,193.42 L42.75,193.47 L44.00,193.52 L45.25,193.58 L46.50,193.64 L47.75,193.71 L49.00,193.78 L50.25,193.85 L51.50,193.95 L52.75,194.05 L54.00,194.17 L55.25,194.29 L56.50,194.43 L57.75,194.56 L59.00,194.70 L60.25,194.83 L61.50,194.97 L62.75,195.10 L64.00,195.23 L65.25,195.36 L66.50,195.50 L67.75,195.64 L69.00,195.78 L70.25,195.93 L71.50,196.08 L72.75,196.23 L74.00,196.39 L75.25,196.56 L76.50,196.73 L77.75,196.91 L79.00,197.10 L80.25,197.29 L81.50,197.49 L82.75,197.69 L84.00,197.89 L85.25,198.09 L86.50,198.30 L87.75,198.51 L89.00,198.72 L90.25,198.94 L91.50,199.17 L92.75,199.40 L94.00,199.63 L95.25,199.86 L96.50,200.09 L97.75,200.33 L99.00,200.56 L100.25,200.79 L101.50,201.03 L102.75,201.27 L104.00,201.51 L105.25,201.75 L106.50,201.99 L107.75,202.23 L109.00,202.48 L110.25,202.72 L111.50,202.96 L112.75,203.20 L114.00,203.44 L115.25,203.68 L116.50,203.91 L117.75,204.14 L119.00,204.37 L120.25,204.59 L121.50,204.81 L122.75,205.03 L124.00,205.24 L125.25,205.46 L126.50,205.67 L127.75,205.88 L129.00,206.09 L130.25,206.30 L131.50,206.51 L132.75,206.72 L134.00,206.92 L135.25,207.13 L136.50,207.34 L137.75,207.55 L139.00,207.76 L140.25,207.96 L141.50,208.17 L142.75,208.38 L144.00,208.58 L145.25,208.79 L146.50,208.99 L147.75,209.19 L149.00,209.40 L150.25,209.60 L151.50,209.81 L152.75,210.02 L154.00,210.23 L155.25,210.44 L156.50,210.65 L157.75,210.86 L159.00,211.07 L160.25,211.28 L161.50,211.49 L162.75,211.71 L164.00,211.92 L165.25,212.13 L166.50,212.35 L167.75,212.56 L169.00,212.78 L170.25,213.00 L171.50,213.21 L172.75,213.43 L174.00,213.65" stroke="#48b6f8" stroke-width="1.1"/>
</g>
<rect x="36.5" y="187.5" width="137.5" height="130.5" fill="none" stroke="#7a7a7a" stroke-width="1.3"/>
<path d="M36.50,318v-2.3M49.00,318v-1.3M61.50,318v-2.3M74.00,318v-1.3M86.50,318v-2.3M99.00,318v-1.3M111.50,318v-2.3M124.00,318v-1.3M136.50,318v-2.3M149.00,318v-1.3M161.50,318v-2.3M174.00,318v-1.3M36.5,312.30h2.3M36.5,300.40h1.3M36.5,288.50h2.3M36.5,276.60h1.3M36.5,264.70h2.3M36.5,252.80h1.3M36.5,240.90h2.3M36.5,229.00h1.3M36.5,217.10h2.3M36.5,205.20h1.3M36.5,193.30h2.3" stroke="#555" stroke-width="0.8" fill="none"/>
<text x="36.5" y="326.9" font-size="10.2" text-anchor="middle" fill="#111">0</text>
<text x="61.5" y="326.9" font-size="10.2" text-anchor="middle" fill="#111">2</text>
<text x="86.5" y="326.9" font-size="10.2" text-anchor="middle" fill="#111">4</text>
<text x="111.5" y="326.9" font-size="10.2" text-anchor="middle" fill="#111">6</text>
<text x="136.5" y="326.9" font-size="10.2" text-anchor="middle" fill="#111">8</text>
<text x="161.5" y="326.9" font-size="10.2" text-anchor="middle" fill="#111">10</text>
<text x="33.3" y="315.7" font-size="10.2" text-anchor="end" fill="#111">0.0</text>
<text x="33.3" y="291.9" font-size="10.2" text-anchor="end" fill="#111">0.2</text>
<text x="33.3" y="268.1" font-size="10.2" text-anchor="end" fill="#111">0.4</text>
<text x="33.3" y="244.3" font-size="10.2" text-anchor="end" fill="#111">0.6</text>
<text x="33.3" y="220.5" font-size="10.2" text-anchor="end" fill="#111">0.8</text>
<text x="33.3" y="196.7" font-size="10.2" text-anchor="end" fill="#111">1.0</text>
<rect x="87.8" y="181.5" width="35" height="12" fill="#fff"/>
<text y="191.8" font-size="13.6" fill="#222"><tspan x="90.0" font-style="italic" font-size="14.2">μ</tspan><tspan x="114.5">0</tspan></text>
<path d="M100.2,186.2h8.6M100.2,189.3h8.6" stroke="#222" stroke-width="0.8" fill="none"/>
<text x="38.5" y="202.1" font-size="14.4" fill="#111">(d)</text>
<clipPath id="pe"><rect x="197.7" y="187.5" width="137.8" height="130.5"/></clipPath>
<g clip-path="url(#pe)" fill="none" stroke-linejoin="round">
<path d="M197.70,200.65 L198.95,200.65 L200.21,200.64 L201.46,200.64 L202.71,200.64 L203.96,200.63 L205.22,200.63 L206.47,200.63 L207.72,200.62 L208.97,200.62 L210.23,200.61 L211.48,200.61 L212.73,200.61 L213.99,200.60 L215.24,200.60 L216.49,200.59 L217.74,200.59 L219.00,200.59 L220.25,200.58 L221.50,200.58 L222.75,200.57 L224.01,200.57 L225.26,200.56 L226.51,200.56 L227.77,200.55 L229.02,200.55 L230.27,200.55 L231.52,200.54 L232.78,200.54 L234.03,200.53 L235.28,200.53 L236.53,200.52 L237.79,200.52 L239.04,200.51 L240.29,200.51 L241.55,200.50 L242.80,200.50 L244.05,200.49 L245.30,200.49 L246.56,200.48 L247.81,200.48 L249.06,200.47 L250.31,200.46 L251.57,200.46 L252.82,200.45 L254.07,200.45 L255.33,200.44 L256.58,200.44 L257.83,200.43 L259.08,200.43 L260.34,200.42 L261.59,200.41 L262.84,200.41 L264.09,200.40 L265.35,200.39 L266.60,200.39 L267.85,200.38 L269.11,200.38 L270.36,200.37 L271.61,200.36 L272.86,200.36 L274.12,200.35 L275.37,200.34 L276.62,200.34 L277.87,200.33 L279.13,200.32 L280.38,200.32 L281.63,200.31 L282.89,200.30 L284.14,200.29 L285.39,200.29 L286.64,200.28 L287.90,200.27 L289.15,200.27 L290.40,200.26 L291.65,200.25 L292.91,200.24 L294.16,200.24 L295.41,200.23 L296.67,200.22 L297.92,200.21 L299.17,200.21 L300.42,200.20 L301.68,200.19 L302.93,200.18 L304.18,200.17 L305.43,200.17 L306.69,200.16 L307.94,200.15 L309.19,200.14 L310.45,200.13 L311.70,200.13 L312.95,200.12 L314.20,200.11 L315.46,200.10 L316.71,200.09 L317.96,200.08 L319.21,200.07 L320.47,200.06 L321.72,200.06 L322.97,200.05 L324.23,200.04 L325.48,200.03 L326.73,200.02 L327.98,200.01 L329.24,200.00 L330.49,199.99 L331.74,199.98 L332.99,199.97 L334.25,199.96 L335.50,199.95" stroke="#a7775f" stroke-width="0.9" stroke-dasharray="1.1,0.5"/>
<path d="M197.70,200.65 L198.95,200.65 L200.21,200.65 L201.46,200.64 L202.71,200.64 L203.96,200.63 L205.22,200.62 L206.47,200.61 L207.72,200.60 L208.97,200.58 L210.23,200.57 L211.48,200.55 L212.73,200.54 L213.99,200.52 L215.24,200.50 L216.49,200.48 L217.74,200.47 L219.00,200.45 L220.25,200.43 L221.50,200.41 L222.75,200.39 L224.01,200.37 L225.26,200.34 L226.51,200.31 L227.77,200.28 L229.02,200.25 L230.27,200.21 L231.52,200.17 L232.78,200.13 L234.03,200.09 L235.28,200.05 L236.53,200.01 L237.79,199.96 L239.04,199.92 L240.29,199.87 L241.55,199.82 L242.80,199.78 L244.05,199.73 L245.30,199.69 L246.56,199.65 L247.81,199.60 L249.06,199.56 L250.31,199.52 L251.57,199.48 L252.82,199.43 L254.07,199.39 L255.33,199.35 L256.58,199.30 L257.83,199.26 L259.08,199.21 L260.34,199.17 L261.59,199.12 L262.84,199.08 L264.09,199.03 L265.35,198.99 L266.60,198.94 L267.85,198.90 L269.11,198.86 L270.36,198.81 L271.61,198.77 L272.86,198.73 L274.12,198.69 L275.37,198.65 L276.62,198.61 L277.87,198.56 L279.13,198.52 L280.38,198.48 L281.63,198.44 L282.89,198.40 L284.14,198.36 L285.39,198.32 L286.64,198.28 L287.90,198.24 L289.15,198.20 L290.40,198.16 L291.65,198.12 L292.91,198.09 L294.16,198.05 L295.41,198.01 L296.67,197.98 L297.92,197.95 L299.17,197.91 L300.42,197.88 L301.68,197.85 L302.93,197.81 L304.18,197.78 L305.43,197.75 L306.69,197.71 L307.94,197.68 L309.19,197.65 L310.45,197.62 L311.70,197.59 L312.95,197.56 L314.20,197.53 L315.46,197.50 L316.71,197.47 L317.96,197.44 L319.21,197.41 L320.47,197.38 L321.72,197.35 L322.97,197.33 L324.23,197.30 L325.48,197.27 L326.73,197.25 L327.98,197.22 L329.24,197.19 L330.49,197.17 L331.74,197.14 L332.99,197.12 L334.25,197.10 L335.50,197.07" stroke="#ef4444" stroke-width="1.1" stroke-dasharray="7,0.6,1,0.6"/>
<path d="M197.70,200.65 L198.95,200.65 L200.21,200.65 L201.46,200.64 L202.71,200.64 L203.96,200.64 L205.22,200.63 L206.47,200.62 L207.72,200.61 L208.97,200.61 L210.23,200.60 L211.48,200.59 L212.73,200.58 L213.99,200.56 L215.24,200.55 L216.49,200.54 L217.74,200.53 L219.00,200.52 L220.25,200.50 L221.50,200.49 L222.75,200.48 L224.01,200.46 L225.26,200.44 L226.51,200.42 L227.77,200.40 L229.02,200.38 L230.27,200.35 L231.52,200.33 L232.78,200.30 L234.03,200.27 L235.28,200.24 L236.53,200.20 L237.79,200.17 L239.04,200.13 L240.29,200.10 L241.55,200.06 L242.80,200.02 L244.05,199.98 L245.30,199.94 L246.56,199.90 L247.81,199.86 L249.06,199.82 L250.31,199.78 L251.57,199.73 L252.82,199.69 L254.07,199.64 L255.33,199.59 L256.58,199.53 L257.83,199.48 L259.08,199.42 L260.34,199.36 L261.59,199.30 L262.84,199.24 L264.09,199.18 L265.35,199.12 L266.60,199.06 L267.85,198.99 L269.11,198.93 L270.36,198.86 L271.61,198.80 L272.86,198.73 L274.12,198.66 L275.37,198.59 L276.62,198.52 L277.87,198.45 L279.13,198.37 L280.38,198.29 L281.63,198.21 L282.89,198.13 L284.14,198.05 L285.39,197.96 L286.64,197.88 L287.90,197.80 L289.15,197.71 L290.40,197.63 L291.65,197.55 L292.91,197.47 L294.16,197.39 L295.41,197.31 L296.67,197.23 L297.92,197.16 L299.17,197.09 L300.42,197.02 L301.68,196.94 L302.93,196.87 L304.18,196.80 L305.43,196.73 L306.69,196.66 L307.94,196.59 L309.19,196.52 L310.45,196.45 L311.70,196.38 L312.95,196.31 L314.20,196.24 L315.46,196.18 L316.71,196.11 L317.96,196.04 L319.21,195.98 L320.47,195.91 L321.72,195.84 L322.97,195.78 L324.23,195.71 L325.48,195.65 L326.73,195.59 L327.98,195.52 L329.24,195.46 L330.49,195.40 L331.74,195.34 L332.99,195.27 L334.25,195.21 L335.50,195.15" stroke="#b690f3" stroke-width="1.1" stroke-dasharray="1.1,1.7"/>
<path d="M197.70,200.65 L198.95,200.65 L200.21,200.64 L201.46,200.63 L202.71,200.62 L203.96,200.61 L205.22,200.59 L206.47,200.57 L207.72,200.55 L208.97,200.52 L210.23,200.49 L211.48,200.46 L212.73,200.43 L213.99,200.40 L215.24,200.36 L216.49,200.33 L217.74,200.29 L219.00,200.25 L220.25,200.21 L221.50,200.17 L222.75,200.13 L224.01,200.08 L225.26,200.02 L226.51,199.95 L227.77,199.88 L229.02,199.79 L230.27,199.70 L231.52,199.60 L232.78,199.50 L234.03,199.39 L235.28,199.27 L236.53,199.16 L237.79,199.03 L239.04,198.91 L240.29,198.78 L241.55,198.66 L242.80,198.53 L244.05,198.40 L245.30,198.28 L246.56,198.15 L247.81,198.03 L249.06,197.91 L250.31,197.78 L251.57,197.65 L252.82,197.51 L254.07,197.37 L255.33,197.23 L256.58,197.09 L257.83,196.94 L259.08,196.79 L260.34,196.64 L261.59,196.49 L262.84,196.35 L264.09,196.20 L265.35,196.05 L266.60,195.91 L267.85,195.77 L269.11,195.63 L270.36,195.50 L271.61,195.37 L272.86,195.24 L274.12,195.12 L275.37,194.99 L276.62,194.87 L277.87,194.75 L279.13,194.63 L280.38,194.50 L281.63,194.38 L282.89,194.26 L284.14,194.15 L285.39,194.03 L286.64,193.92 L287.90,193.81 L289.15,193.70 L290.40,193.60 L291.65,193.50 L292.91,193.40 L294.16,193.31 L295.41,193.22 L296.67,193.14 L297.92,193.06 L299.17,192.98 L300.42,192.91 L301.68,192.84 L302.93,192.76 L304.18,192.69 L305.43,192.62 L306.69,192.55 L307.94,192.48 L309.19,192.41 L310.45,192.35 L311.70,192.28 L312.95,192.22 L314.20,192.16 L315.46,192.09 L316.71,192.04 L317.96,191.98 L319.21,191.92 L320.47,191.87 L321.72,191.82 L322.97,191.77 L324.23,191.72 L325.48,191.67 L326.73,191.63 L327.98,191.59 L329.24,191.55 L330.49,191.52 L331.74,191.48 L332.99,191.45 L334.25,191.43 L335.50,191.40" stroke="#43a843" stroke-width="0.9" stroke-dasharray="1.5,0.6"/>
<path d="M197.70,200.65 L198.95,200.70 L200.21,200.77 L201.46,200.85 L202.71,200.94 L203.96,201.05 L205.22,201.16 L206.47,201.29 L207.72,201.42 L208.97,201.56 L210.23,201.70 L211.48,201.86 L212.73,202.04 L213.99,202.25 L215.24,202.48 L216.49,202.72 L217.74,202.96 L219.00,203.22 L220.25,203.47 L221.50,203.72 L222.75,203.97 L224.01,204.20 L225.26,204.45 L226.51,204.69 L227.77,204.94 L229.02,205.19 L230.27,205.44 L231.52,205.69 L232.78,205.95 L234.03,206.21 L235.28,206.46 L236.53,206.72 L237.79,206.97 L239.04,207.23 L240.29,207.48 L241.55,207.73 L242.80,207.98 L244.05,208.22 L245.30,208.47 L246.56,208.70 L247.81,208.94 L249.06,209.17 L250.31,209.40 L251.57,209.63 L252.82,209.85 L254.07,210.07 L255.33,210.30 L256.58,210.51 L257.83,210.73 L259.08,210.95 L260.34,211.17 L261.59,211.38 L262.84,211.60 L264.09,211.81 L265.35,212.02 L266.60,212.24 L267.85,212.45 L269.11,212.66 L270.36,212.87 L271.61,213.09 L272.86,213.30 L274.12,213.52 L275.37,213.73 L276.62,213.95 L277.87,214.16 L279.13,214.38 L280.38,214.59 L281.63,214.81 L282.89,215.02 L284.14,215.24 L285.39,215.45 L286.64,215.66 L287.90,215.87 L289.15,216.08 L290.40,216.29 L291.65,216.50 L292.91,216.70 L294.16,216.90 L295.41,217.10 L296.67,217.30 L297.92,217.49 L299.17,217.68 L300.42,217.87 L301.68,218.06 L302.93,218.25 L304.18,218.44 L305.43,218.62 L306.69,218.81 L307.94,218.99 L309.19,219.17 L310.45,219.36 L311.70,219.54 L312.95,219.72 L314.20,219.90 L315.46,220.07 L316.71,220.25 L317.96,220.42 L319.21,220.60 L320.47,220.77 L321.72,220.94 L322.97,221.11 L324.23,221.28 L325.48,221.44 L326.73,221.61 L327.98,221.77 L329.24,221.94 L330.49,222.10 L331.74,222.26 L332.99,222.41 L334.25,222.57 L335.50,222.72" stroke="#f7c77f" stroke-width="0.9" stroke-dasharray="1.3,0.4"/>
<path d="M197.70,312.16 L198.95,311.63 L200.21,311.11 L201.46,310.59 L202.71,310.06 L203.96,309.54 L205.22,309.03 L206.47,308.55 L207.72,308.04 L208.97,307.49 L210.23,306.83 L211.48,306.05 L212.73,305.27 L213.99,304.49 L215.24,303.70 L216.49,302.91 L217.74,302.13 L219.00,301.36 L220.25,300.59 L221.50,299.80 L222.75,298.98 L224.01,298.14 L225.26,297.29 L226.51,296.42 L227.77,295.54 L229.02,294.65 L230.27,293.75 L231.52,292.84 L232.78,291.92 L234.03,291.00 L235.28,290.07 L236.53,289.13 L237.79,288.19 L239.04,287.25 L240.29,286.30 L241.55,285.36 L242.80,284.41 L244.05,283.47 L245.30,282.53 L246.56,281.59 L247.81,280.66 L249.06,279.72 L250.31,278.79 L251.57,277.84 L252.82,276.90 L254.07,275.95 L255.33,274.99 L256.58,274.04 L257.83,273.08 L259.08,272.13 L260.34,271.17 L261.59,270.21 L262.84,269.26 L264.09,268.30 L265.35,267.35 L266.60,266.40 L267.85,265.46 L269.11,264.52 L270.36,263.58 L271.61,262.65 L272.86,261.73 L274.12,260.80 L275.37,259.87 L276.62,258.94 L277.87,258.01 L279.13,257.08 L280.38,256.14 L281.63,255.21 L282.89,254.28 L284.14,253.36 L285.39,252.44 L286.64,251.52 L287.90,250.62 L289.15,249.72 L290.40,248.83 L291.65,247.95 L292.91,247.08 L294.16,246.23 L295.41,245.39 L296.67,244.56 L297.92,243.75 L299.17,242.95 L300.42,242.16 L301.68,241.38 L302.93,240.60 L304.18,239.83 L305.43,239.06 L306.69,238.31 L307.94,237.56 L309.19,236.82 L310.45,236.09 L311.70,235.37 L312.95,234.65 L314.20,233.95 L315.46,233.25 L316.71,232.56 L317.96,231.88 L319.21,231.21 L320.47,230.56 L321.72,229.91 L322.97,229.27 L324.23,228.64 L325.48,228.03 L326.73,227.42 L327.98,226.83 L329.24,226.25 L330.49,225.69 L331.74,225.13 L332.99,224.58 L334.25,224.04 L335.50,223.51" stroke="#48b6f8" stroke-width="1.1"/>
</g>
<rect x="197.7" y="187.5" width="137.8" height="130.5" fill="none" stroke="#7a7a7a" stroke-width="1.3"/>
<path d="M197.70,318v-2.3M210.23,318v-1.3M222.75,318v-2.3M235.28,318v-1.3M247.81,318v-2.3M260.34,318v-1.3M272.86,318v-2.3M285.39,318v-1.3M297.92,318v-2.3M310.45,318v-1.3M322.97,318v-2.3M335.50,318v-1.3M197.7,191.93h1.3M197.7,200.65h2.3M197.7,209.38h1.3M197.7,218.10h2.3M197.7,226.83h1.3M197.7,235.55h2.3M197.7,244.28h1.3M197.7,253.00h2.3M197.7,261.73h1.3M197.7,270.45h2.3M197.7,279.18h1.3M197.7,287.90h2.3M197.7,296.62h1.3M197.7,305.35h2.3M197.7,314.07h1.3" stroke="#555" stroke-width="0.8" fill="none"/>
<text x="197.7" y="326.9" font-size="10.2" text-anchor="middle" fill="#111">0</text>
<text x="222.8" y="326.9" font-size="10.2" text-anchor="middle" fill="#111">2</text>
<text x="247.8" y="326.9" font-size="10.2" text-anchor="middle" fill="#111">4</text>
<text x="272.9" y="326.9" font-size="10.2" text-anchor="middle" fill="#111">6</text>
<text x="297.9" y="326.9" font-size="10.2" text-anchor="middle" fill="#111">8</text>
<text x="323.0" y="326.9" font-size="10.2" text-anchor="middle" fill="#111">10</text>
<text x="194.5" y="204.1" font-size="10.2" text-anchor="end" fill="#111">0.0</text>
<text x="194.5" y="221.5" font-size="10.2" text-anchor="end" fill="#111">-0.2</text>
<text x="194.5" y="239.0" font-size="10.2" text-anchor="end" fill="#111">-0.4</text>
<text x="194.5" y="256.4" font-size="10.2" text-anchor="end" fill="#111">-0.6</text>
<text x="194.5" y="273.8" font-size="10.2" text-anchor="end" fill="#111">-0.8</text>
<text x="194.5" y="291.3" font-size="10.2" text-anchor="end" fill="#111">-1.0</text>
<text x="194.5" y="308.8" font-size="10.2" text-anchor="end" fill="#111">-1.2</text>
<rect x="249.2" y="181.5" width="35" height="12" fill="#fff"/>
<text y="191.8" font-size="13.6" fill="#222"><tspan x="251.3" font-style="italic" font-size="14.2">μ</tspan><tspan x="275.8">2</tspan></text>
<path d="M261.6,186.2h8.6M261.6,189.3h8.6" stroke="#222" stroke-width="0.8" fill="none"/>
<text x="199.9" y="202.1" font-size="14.4" fill="#111">(e)</text>
<clipPath id="pf"><rect x="36.3" y="335.6" width="82.7" height="130.29999999999995"/></clipPath>
<g clip-path="url(#pf)" fill="none" stroke-linejoin="round">
<path d="M36.30,411.70 L37.05,411.70 L37.80,411.70 L38.56,411.69 L39.31,411.69 L40.06,411.68 L40.81,411.68 L41.56,411.67 L42.31,411.67 L43.07,411.66 L43.82,411.65 L44.57,411.65 L45.32,411.64 L46.07,411.63 L46.83,411.62 L47.58,411.61 L48.33,411.60 L49.08,411.59 L49.83,411.58 L50.58,411.57 L51.34,411.56 L52.09,411.54 L52.84,411.53 L53.59,411.52 L54.34,411.50 L55.10,411.49 L55.85,411.48 L56.60,411.46 L57.35,411.45 L58.10,411.43 L58.85,411.42 L59.61,411.41 L60.36,411.39 L61.11,411.37 L61.86,411.36 L62.61,411.34 L63.37,411.33 L64.12,411.31 L64.87,411.30 L65.62,411.28 L66.37,411.26 L67.12,411.25 L67.88,411.23 L68.63,411.21 L69.38,411.19 L70.13,411.17 L70.88,411.15 L71.64,411.12 L72.39,411.10 L73.14,411.08 L73.89,411.05 L74.64,411.02 L75.39,411.00 L76.15,410.97 L76.90,410.94 L77.65,410.91 L78.40,410.88 L79.15,410.85 L79.91,410.82 L80.66,410.78 L81.41,410.75 L82.16,410.72 L82.91,410.69 L83.66,410.65 L84.42,410.62 L85.17,410.58 L85.92,410.55 L86.67,410.51 L87.42,410.48 L88.18,410.45 L88.93,410.41 L89.68,410.38 L90.43,410.34 L91.18,410.31 L91.93,410.27 L92.69,410.24 L93.44,410.20 L94.19,410.17 L94.94,410.13 L95.69,410.10 L96.45,410.07 L97.20,410.03 L97.95,410.00 L98.70,409.97 L99.45,409.93 L100.20,409.90 L100.96,409.87 L101.71,409.83 L102.46,409.80 L103.21,409.76 L103.96,409.73 L104.72,409.69 L105.47,409.66 L106.22,409.62 L106.97,409.58 L107.72,409.55 L108.47,409.51 L109.23,409.47 L109.98,409.44 L110.73,409.40 L111.48,409.36 L112.23,409.32 L112.99,409.29 L113.74,409.25 L114.49,409.21 L115.24,409.17 L115.99,409.13 L116.74,409.10 L117.50,409.06 L118.25,409.02 L119.00,408.98" stroke="#a7775f" stroke-width="0.9" stroke-dasharray="1.1,0.5"/>
<path d="M36.30,411.70 L37.05,411.70 L37.80,411.70 L38.56,411.69 L39.31,411.69 L40.06,411.68 L40.81,411.68 L41.56,411.67 L42.31,411.66 L43.07,411.65 L43.82,411.64 L44.57,411.62 L45.32,411.61 L46.07,411.60 L46.83,411.58 L47.58,411.57 L48.33,411.55 L49.08,411.53 L49.83,411.52 L50.58,411.50 L51.34,411.48 L52.09,411.46 L52.84,411.43 L53.59,411.40 L54.34,411.36 L55.10,411.32 L55.85,411.27 L56.60,411.22 L57.35,411.17 L58.10,411.11 L58.85,411.05 L59.61,410.99 L60.36,410.93 L61.11,410.86 L61.86,410.79 L62.61,410.73 L63.37,410.66 L64.12,410.59 L64.87,410.53 L65.62,410.46 L66.37,410.39 L67.12,410.33 L67.88,410.26 L68.63,410.20 L69.38,410.13 L70.13,410.06 L70.88,409.98 L71.64,409.91 L72.39,409.84 L73.14,409.76 L73.89,409.68 L74.64,409.61 L75.39,409.53 L76.15,409.45 L76.90,409.37 L77.65,409.28 L78.40,409.20 L79.15,409.12 L79.91,409.03 L80.66,408.95 L81.41,408.86 L82.16,408.78 L82.91,408.69 L83.66,408.61 L84.42,408.52 L85.17,408.43 L85.92,408.35 L86.67,408.26 L87.42,408.17 L88.18,408.08 L88.93,408.00 L89.68,407.91 L90.43,407.82 L91.18,407.73 L91.93,407.65 L92.69,407.56 L93.44,407.47 L94.19,407.39 L94.94,407.30 L95.69,407.22 L96.45,407.13 L97.20,407.05 L97.95,406.96 L98.70,406.88 L99.45,406.79 L100.20,406.71 L100.96,406.62 L101.71,406.54 L102.46,406.45 L103.21,406.36 L103.96,406.28 L104.72,406.19 L105.47,406.10 L106.22,406.02 L106.97,405.93 L107.72,405.84 L108.47,405.76 L109.23,405.67 L109.98,405.58 L110.73,405.49 L111.48,405.41 L112.23,405.32 L112.99,405.23 L113.74,405.14 L114.49,405.05 L115.24,404.96 L115.99,404.88 L116.74,404.79 L117.50,404.70 L118.25,404.61 L119.00,404.52" stroke="#b690f3" stroke-width="1.1" stroke-dasharray="1.1,1.7"/>
<path d="M36.30,411.70 L37.05,411.70 L37.80,411.69 L38.56,411.69 L39.31,411.68 L40.06,411.66 L40.81,411.65 L41.56,411.63 L42.31,411.61 L43.07,411.59 L43.82,411.56 L44.57,411.54 L45.32,411.51 L46.07,411.48 L46.83,411.45 L47.58,411.42 L48.33,411.39 L49.08,411.36 L49.83,411.33 L50.58,411.30 L51.34,411.26 L52.09,411.23 L52.84,411.19 L53.59,411.14 L54.34,411.09 L55.10,411.04 L55.85,410.98 L56.60,410.92 L57.35,410.85 L58.10,410.78 L58.85,410.71 L59.61,410.64 L60.36,410.57 L61.11,410.49 L61.86,410.42 L62.61,410.34 L63.37,410.26 L64.12,410.19 L64.87,410.11 L65.62,410.03 L66.37,409.96 L67.12,409.89 L67.88,409.81 L68.63,409.73 L69.38,409.66 L70.13,409.58 L70.88,409.50 L71.64,409.42 L72.39,409.34 L73.14,409.26 L73.89,409.17 L74.64,409.09 L75.39,409.00 L76.15,408.92 L76.90,408.83 L77.65,408.75 L78.40,408.66 L79.15,408.57 L79.91,408.48 L80.66,408.39 L81.41,408.30 L82.16,408.21 L82.91,408.12 L83.66,408.03 L84.42,407.94 L85.17,407.85 L85.92,407.76 L86.67,407.67 L87.42,407.58 L88.18,407.49 L88.93,407.39 L89.68,407.30 L90.43,407.21 L91.18,407.12 L91.93,407.03 L92.69,406.93 L93.44,406.84 L94.19,406.75 L94.94,406.66 L95.69,406.57 L96.45,406.48 L97.20,406.39 L97.95,406.30 L98.70,406.20 L99.45,406.11 L100.20,406.02 L100.96,405.93 L101.71,405.84 L102.46,405.74 L103.21,405.65 L103.96,405.56 L104.72,405.46 L105.47,405.37 L106.22,405.28 L106.97,405.18 L107.72,405.09 L108.47,404.99 L109.23,404.90 L109.98,404.80 L110.73,404.71 L111.48,404.61 L112.23,404.52 L112.99,404.42 L113.74,404.33 L114.49,404.23 L115.24,404.13 L115.99,404.04 L116.74,403.94 L117.50,403.84 L118.25,403.75 L119.00,403.65" stroke="#ef4444" stroke-width="1.1" stroke-dasharray="7,0.6,1,0.6"/>
<path d="M36.30,411.70 L37.05,411.89 L37.80,412.09 L38.56,412.28 L39.31,412.46 L40.06,412.65 L40.81,412.83 L41.56,413.00 L42.31,413.18 L43.07,413.35 L43.82,413.52 L44.57,413.68 L45.32,413.84 L46.07,413.99 L46.83,414.15 L47.58,414.29 L48.33,414.44 L49.08,414.58 L49.83,414.71 L50.58,414.84 L51.34,414.96 L52.09,415.09 L52.84,415.22 L53.59,415.35 L54.34,415.48 L55.10,415.61 L55.85,415.75 L56.60,415.88 L57.35,416.01 L58.10,416.13 L58.85,416.25 L59.61,416.36 L60.36,416.47 L61.11,416.57 L61.86,416.65 L62.61,416.73 L63.37,416.80 L64.12,416.85 L64.87,416.89 L65.62,416.91 L66.37,416.92 L67.12,416.91 L67.88,416.89 L68.63,416.84 L69.38,416.78 L70.13,416.71 L70.88,416.62 L71.64,416.53 L72.39,416.42 L73.14,416.30 L73.89,416.18 L74.64,416.05 L75.39,415.92 L76.15,415.78 L76.90,415.65 L77.65,415.51 L78.40,415.36 L79.15,415.20 L79.91,415.01 L80.66,414.81 L81.41,414.60 L82.16,414.37 L82.91,414.12 L83.66,413.86 L84.42,413.59 L85.17,413.30 L85.92,413.00 L86.67,412.69 L87.42,412.37 L88.18,412.04 L88.93,411.70 L89.68,411.33 L90.43,410.92 L91.18,410.46 L91.93,409.98 L92.69,409.46 L93.44,408.93 L94.19,408.38 L94.94,407.82 L95.69,407.26 L96.45,406.70 L97.20,406.13 L97.95,405.56 L98.70,404.97 L99.45,404.37 L100.20,403.76 L100.96,403.14 L101.71,402.51 L102.46,401.87 L103.21,401.22 L103.96,400.57 L104.72,399.91 L105.47,399.24 L106.22,398.57 L106.97,397.89 L107.72,397.21 L108.47,396.52 L109.23,395.83 L109.98,395.14 L110.73,394.44 L111.48,393.75 L112.23,393.05 L112.99,392.33 L113.74,391.61 L114.49,390.88 L115.24,390.14 L115.99,389.40 L116.74,388.64 L117.50,387.88 L118.25,387.12 L119.00,386.35" stroke="#f7c77f" stroke-width="0.9" stroke-dasharray="1.3,0.4"/>
<path d="M36.30,411.70 L37.05,411.71 L37.80,411.74 L38.56,411.78 L39.31,411.83 L40.06,411.90 L40.81,411.98 L41.56,412.06 L42.31,412.15 L43.07,412.25 L43.82,412.35 L44.57,412.47 L45.32,412.63 L46.07,412.82 L46.83,413.03 L47.58,413.28 L48.33,413.54 L49.08,413.82 L49.83,414.12 L50.58,414.43 L51.34,414.75 L52.09,415.09 L52.84,415.47 L53.59,415.89 L54.34,416.34 L55.10,416.83 L55.85,417.34 L56.60,417.88 L57.35,418.44 L58.10,419.02 L58.85,419.62 L59.61,420.24 L60.36,420.86 L61.11,421.50 L61.86,422.14 L62.61,422.78 L63.37,423.43 L64.12,424.07 L64.87,424.71 L65.62,425.33 L66.37,425.95 L67.12,426.57 L67.88,427.21 L68.63,427.86 L69.38,428.53 L70.13,429.20 L70.88,429.89 L71.64,430.58 L72.39,431.28 L73.14,431.98 L73.89,432.68 L74.64,433.39 L75.39,434.09 L76.15,434.79 L76.90,435.48 L77.65,436.17 L78.40,436.85 L79.15,437.52 L79.91,438.17 L80.66,438.82 L81.41,439.44 L82.16,440.06 L82.91,440.68 L83.66,441.30 L84.42,441.92 L85.17,442.54 L85.92,443.15 L86.67,443.76 L87.42,444.37 L88.18,444.97 L88.93,445.56 L89.68,446.14 L90.43,446.72 L91.18,447.28 L91.93,447.84 L92.69,448.38 L93.44,448.91 L94.19,449.42 L94.94,449.92 L95.69,450.40 L96.45,450.87 L97.20,451.32 L97.95,451.77 L98.70,452.21 L99.45,452.65 L100.20,453.07 L100.96,453.50 L101.71,453.91 L102.46,454.31 L103.21,454.71 L103.96,455.10 L104.72,455.48 L105.47,455.85 L106.22,456.22 L106.97,456.57 L107.72,456.92 L108.47,457.25 L109.23,457.57 L109.98,457.89 L110.73,458.19 L111.48,458.48 L112.23,458.77 L112.99,459.04 L113.74,459.30 L114.49,459.55 L115.24,459.80 L115.99,460.03 L116.74,460.26 L117.50,460.47 L118.25,460.68 L119.00,460.88" stroke="#43a843" stroke-width="0.9" stroke-dasharray="1.5,0.6"/>
<path d="M36.30,343.92 L37.05,344.24 L37.80,344.56 L38.56,344.88 L39.31,345.21 L40.06,345.53 L40.81,345.86 L41.56,346.18 L42.31,346.51 L43.07,346.83 L43.82,347.16 L44.57,347.49 L45.32,347.82 L46.07,348.15 L46.83,348.48 L47.58,348.81 L48.33,349.14 L49.08,349.47 L49.83,349.81 L50.58,350.14 L51.34,350.48 L52.09,350.81 L52.84,351.15 L53.59,351.48 L54.34,351.82 L55.10,352.16 L55.85,352.50 L56.60,352.83 L57.35,353.17 L58.10,353.51 L58.85,353.86 L59.61,354.20 L60.36,354.54 L61.11,354.88 L61.86,355.23 L62.61,355.57 L63.37,355.91 L64.12,356.26 L64.87,356.61 L65.62,356.95 L66.37,357.30 L67.12,357.65 L67.88,358.00 L68.63,358.35 L69.38,358.70 L70.13,359.05 L70.88,359.41 L71.64,359.76 L72.39,360.12 L73.14,360.47 L73.89,360.83 L74.64,361.19 L75.39,361.55 L76.15,361.91 L76.90,362.27 L77.65,362.63 L78.40,362.99 L79.15,363.35 L79.91,363.72 L80.66,364.08 L81.41,364.44 L82.16,364.81 L82.91,365.17 L83.66,365.54 L84.42,365.90 L85.17,366.27 L85.92,366.64 L86.67,367.00 L87.42,367.37 L88.18,367.74 L88.93,368.10 L89.68,368.47 L90.43,368.84 L91.18,369.20 L91.93,369.57 L92.69,369.94 L93.44,370.30 L94.19,370.67 L94.94,371.04 L95.69,371.40 L96.45,371.77 L97.20,372.14 L97.95,372.50 L98.70,372.87 L99.45,373.24 L100.20,373.60 L100.96,373.97 L101.71,374.34 L102.46,374.71 L103.21,375.08 L103.96,375.44 L104.72,375.81 L105.47,376.18 L106.22,376.55 L106.97,376.92 L107.72,377.29 L108.47,377.66 L109.23,378.03 L109.98,378.40 L110.73,378.77 L111.48,379.14 L112.23,379.52 L112.99,379.89 L113.74,380.26 L114.49,380.63 L115.24,381.00 L115.99,381.38 L116.74,381.75 L117.50,382.12 L118.25,382.49 L119.00,382.87" stroke="#48b6f8" stroke-width="1.1"/>
</g>
<rect x="36.3" y="335.6" width="82.7" height="130.29999999999995" fill="none" stroke="#7a7a7a" stroke-width="1.3"/>
<path d="M36.30,465.9v-2.3M43.82,465.9v-1.3M51.34,465.9v-2.3M58.85,465.9v-1.3M66.37,465.9v-2.3M73.89,465.9v-1.3M81.41,465.9v-2.3M88.93,465.9v-1.3M96.45,465.9v-2.3M103.96,465.9v-1.3M111.48,465.9v-2.3M119.00,465.9v-1.3M36.3,455.22h2.3M36.3,444.34h1.3M36.3,433.46h2.3M36.3,422.58h1.3M36.3,411.70h2.3M36.3,400.82h1.3M36.3,389.94h2.3M36.3,379.06h1.3M36.3,368.18h2.3M36.3,357.30h1.3M36.3,346.42h2.3" stroke="#555" stroke-width="0.8" fill="none"/>
<text x="36.3" y="474.8" font-size="10.2" text-anchor="middle" fill="#111">0</text>
<text x="51.3" y="474.8" font-size="10.2" text-anchor="middle" fill="#111">2</text>
<text x="66.4" y="474.8" font-size="10.2" text-anchor="middle" fill="#111">4</text>
<text x="81.4" y="474.8" font-size="10.2" text-anchor="middle" fill="#111">6</text>
<text x="96.4" y="474.8" font-size="10.2" text-anchor="middle" fill="#111">8</text>
<text x="111.5" y="474.8" font-size="10.2" text-anchor="middle" fill="#111">10</text>
<text x="33.1" y="458.6" font-size="10.2" text-anchor="end" fill="#111">-0.4</text>
<text x="33.1" y="436.9" font-size="10.2" text-anchor="end" fill="#111">-0.2</text>
<text x="33.1" y="415.1" font-size="10.2" text-anchor="end" fill="#111">0.0</text>
<text x="33.1" y="393.3" font-size="10.2" text-anchor="end" fill="#111">0.2</text>
<text x="33.1" y="371.6" font-size="10.2" text-anchor="end" fill="#111">0.4</text>
<text x="33.1" y="349.8" font-size="10.2" text-anchor="end" fill="#111">0.6</text>
<rect x="60.3" y="329.6" width="35" height="12" fill="#fff"/>
<text y="339.9" font-size="13.6" fill="#222"><tspan x="62.4" font-style="italic" font-size="14.2">μ</tspan><tspan x="86.9">4</tspan></text>
<path d="M72.7,334.3h8.6M72.7,337.4h8.6" stroke="#222" stroke-width="0.8" fill="none"/>
<text x="40.0" y="350.2" font-size="14.4" fill="#111">(f)</text>
<clipPath id="pg"><rect x="144.4" y="335.6" width="83.1" height="130.29999999999995"/></clipPath>
<g clip-path="url(#pg)" fill="none" stroke-linejoin="round">
<path d="M144.40,455.10 L145.16,455.10 L145.91,455.10 L146.67,455.10 L147.42,455.10 L148.18,455.10 L148.93,455.10 L149.69,455.10 L150.44,455.10 L151.20,455.10 L151.95,455.10 L152.71,455.10 L153.47,455.10 L154.22,455.10 L154.98,455.10 L155.73,455.10 L156.49,455.10 L157.24,455.10 L158.00,455.10 L158.75,455.10 L159.51,455.10 L160.26,455.10 L161.02,455.10 L161.78,455.10 L162.53,455.10 L163.29,455.10 L164.04,455.10 L164.80,455.10 L165.55,455.10 L166.31,455.10 L167.06,455.10 L167.82,455.10 L168.57,455.10 L169.33,455.10 L170.09,455.10 L170.84,455.10 L171.60,455.10 L172.35,455.10 L173.11,455.10 L173.86,455.10 L174.62,455.10 L175.37,455.10 L176.13,455.10 L176.88,455.10 L177.64,455.10 L178.40,455.10 L179.15,455.10 L179.91,455.10 L180.66,455.10 L181.42,455.10 L182.17,455.10 L182.93,455.10 L183.68,455.10 L184.44,455.10 L185.19,455.10 L185.95,455.10 L186.71,455.10 L187.46,455.10 L188.22,455.10 L188.97,455.10 L189.73,455.10 L190.48,455.10 L191.24,455.10 L191.99,455.10 L192.75,455.10 L193.50,455.10 L194.26,455.10 L195.02,455.10 L195.77,455.10 L196.53,455.10 L197.28,455.10 L198.04,455.10 L198.79,455.10 L199.55,455.10 L200.30,455.10 L201.06,455.10 L201.81,455.10 L202.57,455.10 L203.33,455.10 L204.08,455.10 L204.84,455.10 L205.59,455.10 L206.35,455.10 L207.10,455.10 L207.86,455.10 L208.61,455.10 L209.37,455.10 L210.12,455.10 L210.88,455.10 L211.64,455.10 L212.39,455.10 L213.15,455.10 L213.90,455.10 L214.66,455.10 L215.41,455.10 L216.17,455.10 L216.92,455.10 L217.68,455.10 L218.43,455.10 L219.19,455.10 L219.95,455.10 L220.70,455.10 L221.46,455.10 L222.21,455.10 L222.97,455.10 L223.72,455.10 L224.48,455.10 L225.23,455.10 L225.99,455.10 L226.74,455.10 L227.50,455.10" stroke="#48b6f8" stroke-width="1.6"/>
<path d="M144.40,455.10 L145.16,455.10 L145.91,455.10 L146.67,455.10 L147.42,455.09 L148.18,455.09 L148.93,455.08 L149.69,455.08 L150.44,455.07 L151.20,455.06 L151.95,455.05 L152.71,455.04 L153.47,455.03 L154.22,455.02 L154.98,455.01 L155.73,455.00 L156.49,454.99 L157.24,454.98 L158.00,454.96 L158.75,454.95 L159.51,454.94 L160.26,454.92 L161.02,454.90 L161.78,454.88 L162.53,454.85 L163.29,454.82 L164.04,454.78 L164.80,454.75 L165.55,454.70 L166.31,454.66 L167.06,454.61 L167.82,454.56 L168.57,454.51 L169.33,454.46 L170.09,454.40 L170.84,454.34 L171.60,454.28 L172.35,454.21 L173.11,454.15 L173.86,454.08 L174.62,454.01 L175.37,453.94 L176.13,453.86 L176.88,453.76 L177.64,453.66 L178.40,453.55 L179.15,453.43 L179.91,453.31 L180.66,453.18 L181.42,453.04 L182.17,452.90 L182.93,452.75 L183.68,452.60 L184.44,452.45 L185.19,452.29 L185.95,452.13 L186.71,451.96 L187.46,451.80 L188.22,451.63 L188.97,451.46 L189.73,451.29 L190.48,451.12 L191.24,450.94 L191.99,450.75 L192.75,450.55 L193.50,450.35 L194.26,450.14 L195.02,449.92 L195.77,449.70 L196.53,449.47 L197.28,449.25 L198.04,449.01 L198.79,448.78 L199.55,448.55 L200.30,448.31 L201.06,448.08 L201.81,447.85 L202.57,447.62 L203.33,447.39 L204.08,447.17 L204.84,446.95 L205.59,446.73 L206.35,446.51 L207.10,446.29 L207.86,446.08 L208.61,445.86 L209.37,445.64 L210.12,445.42 L210.88,445.21 L211.64,444.99 L212.39,444.77 L213.15,444.55 L213.90,444.34 L214.66,444.12 L215.41,443.90 L216.17,443.68 L216.92,443.47 L217.68,443.25 L218.43,443.03 L219.19,442.81 L219.95,442.60 L220.70,442.38 L221.46,442.16 L222.21,441.94 L222.97,441.73 L223.72,441.51 L224.48,441.29 L225.23,441.08 L225.99,440.86 L226.74,440.64 L227.50,440.42" stroke="#a7775f" stroke-width="0.9" stroke-dasharray="1.1,0.5"/>
<path d="M144.40,455.10 L145.16,455.10 L145.91,455.09 L146.67,455.07 L147.42,455.04 L148.18,455.01 L148.93,454.98 L149.69,454.94 L150.44,454.89 L151.20,454.84 L151.95,454.78 L152.71,454.72 L153.47,454.65 L154.22,454.58 L154.98,454.51 L155.73,454.43 L156.49,454.35 L157.24,454.27 L158.00,454.19 L158.75,454.10 L159.51,454.01 L160.26,453.91 L161.02,453.78 L161.78,453.63 L162.53,453.46 L163.29,453.26 L164.04,453.05 L164.80,452.82 L165.55,452.57 L166.31,452.31 L167.06,452.04 L167.82,451.76 L168.57,451.48 L169.33,451.18 L170.09,450.89 L170.84,450.59 L171.60,450.29 L172.35,449.99 L173.11,449.69 L173.86,449.40 L174.62,449.12 L175.37,448.84 L176.13,448.54 L176.88,448.24 L177.64,447.94 L178.40,447.62 L179.15,447.30 L179.91,446.98 L180.66,446.65 L181.42,446.31 L182.17,445.98 L182.93,445.64 L183.68,445.30 L184.44,444.95 L185.19,444.61 L185.95,444.27 L186.71,443.93 L187.46,443.59 L188.22,443.26 L188.97,442.93 L189.73,442.60 L190.48,442.27 L191.24,441.93 L191.99,441.59 L192.75,441.25 L193.50,440.91 L194.26,440.56 L195.02,440.21 L195.77,439.86 L196.53,439.52 L197.28,439.17 L198.04,438.83 L198.79,438.50 L199.55,438.16 L200.30,437.84 L201.06,437.52 L201.81,437.21 L202.57,436.91 L203.33,436.62 L204.08,436.34 L204.84,436.07 L205.59,435.82 L206.35,435.57 L207.10,435.32 L207.86,435.08 L208.61,434.85 L209.37,434.63 L210.12,434.40 L210.88,434.18 L211.64,433.97 L212.39,433.76 L213.15,433.55 L213.90,433.34 L214.66,433.14 L215.41,432.94 L216.17,432.74 L216.92,432.53 L217.68,432.33 L218.43,432.13 L219.19,431.93 L219.95,431.73 L220.70,431.52 L221.46,431.32 L222.21,431.12 L222.97,430.92 L223.72,430.73 L224.48,430.53 L225.23,430.34 L225.99,430.15 L226.74,429.96 L227.50,429.77" stroke="#ef4444" stroke-width="1.1" stroke-dasharray="7,0.6,1,0.6"/>
<path d="M144.40,455.10 L145.16,455.10 L145.91,455.09 L146.67,455.09 L147.42,455.08 L148.18,455.06 L148.93,455.04 L149.69,455.03 L150.44,455.00 L151.20,454.98 L151.95,454.95 L152.71,454.92 L153.47,454.89 L154.22,454.86 L154.98,454.82 L155.73,454.78 L156.49,454.74 L157.24,454.70 L158.00,454.65 L158.75,454.60 L159.51,454.56 L160.26,454.49 L161.02,454.39 L161.78,454.27 L162.53,454.11 L163.29,453.93 L164.04,453.73 L164.80,453.50 L165.55,453.25 L166.31,452.98 L167.06,452.69 L167.82,452.38 L168.57,452.06 L169.33,451.72 L170.09,451.37 L170.84,451.02 L171.60,450.65 L172.35,450.27 L173.11,449.89 L173.86,449.51 L174.62,449.12 L175.37,448.71 L176.13,448.24 L176.88,447.74 L177.64,447.19 L178.40,446.60 L179.15,445.98 L179.91,445.32 L180.66,444.64 L181.42,443.94 L182.17,443.21 L182.93,442.46 L183.68,441.70 L184.44,440.93 L185.19,440.16 L185.95,439.37 L186.71,438.59 L187.46,437.81 L188.22,437.04 L188.97,436.28 L189.73,435.53 L190.48,434.78 L191.24,434.02 L191.99,433.24 L192.75,432.46 L193.50,431.66 L194.26,430.86 L195.02,430.04 L195.77,429.22 L196.53,428.39 L197.28,427.56 L198.04,426.73 L198.79,425.89 L199.55,425.05 L200.30,424.21 L201.06,423.37 L201.81,422.53 L202.57,421.70 L203.33,420.87 L204.08,420.04 L204.84,419.22 L205.59,418.41 L206.35,417.59 L207.10,416.76 L207.86,415.94 L208.61,415.12 L209.37,414.29 L210.12,413.47 L210.88,412.64 L211.64,411.81 L212.39,410.99 L213.15,410.17 L213.90,409.35 L214.66,408.53 L215.41,407.72 L216.17,406.90 L216.92,406.10 L217.68,405.29 L218.43,404.49 L219.19,403.70 L219.95,402.91 L220.70,402.13 L221.46,401.36 L222.21,400.59 L222.97,399.82 L223.72,399.06 L224.48,398.30 L225.23,397.55 L225.99,396.80 L226.74,396.05 L227.50,395.30" stroke="#b690f3" stroke-width="1.1" stroke-dasharray="1.1,1.7"/>
<path d="M144.40,455.10 L145.16,455.09 L145.91,455.07 L146.67,455.04 L147.42,455.00 L148.18,454.95 L148.93,454.88 L149.69,454.81 L150.44,454.73 L151.20,454.65 L151.95,454.56 L152.71,454.42 L153.47,454.20 L154.22,453.90 L154.98,453.55 L155.73,453.15 L156.49,452.70 L157.24,452.23 L158.00,451.74 L158.75,451.25 L159.51,450.75 L160.26,450.24 L161.02,449.70 L161.78,449.13 L162.53,448.52 L163.29,447.88 L164.04,447.22 L164.80,446.52 L165.55,445.80 L166.31,445.05 L167.06,444.28 L167.82,443.49 L168.57,442.67 L169.33,441.84 L170.09,440.98 L170.84,440.11 L171.60,439.22 L172.35,438.32 L173.11,437.40 L173.86,436.47 L174.62,435.53 L175.37,434.56 L176.13,433.53 L176.88,432.45 L177.64,431.33 L178.40,430.17 L179.15,428.97 L179.91,427.74 L180.66,426.48 L181.42,425.19 L182.17,423.89 L182.93,422.56 L183.68,421.22 L184.44,419.88 L185.19,418.53 L185.95,417.17 L186.71,415.82 L187.46,414.48 L188.22,413.14 L188.97,411.83 L189.73,410.52 L190.48,409.23 L191.24,407.92 L191.99,406.60 L192.75,405.28 L193.50,403.94 L194.26,402.60 L195.02,401.26 L195.77,399.91 L196.53,398.56 L197.28,397.21 L198.04,395.85 L198.79,394.50 L199.55,393.15 L200.30,391.81 L201.06,390.47 L201.81,389.13 L202.57,387.81 L203.33,386.49 L204.08,385.18 L204.84,383.89 L205.59,382.60 L206.35,381.30 L207.10,380.00 L207.86,378.70 L208.61,377.40 L209.37,376.11 L210.12,374.81 L210.88,373.52 L211.64,372.24 L212.39,370.96 L213.15,369.69 L213.90,368.43 L214.66,367.18 L215.41,365.95 L216.17,364.73 L216.92,363.52 L217.68,362.33 L218.43,361.16 L219.19,360.01 L219.95,358.88 L220.70,357.77 L221.46,356.68 L222.21,355.61 L222.97,354.56 L223.72,353.52 L224.48,352.50 L225.23,351.49 L225.99,350.50 L226.74,349.52 L227.50,348.55" stroke="#43a843" stroke-width="0.9" stroke-dasharray="1.5,0.6"/>
<path d="M144.40,455.10 L145.16,455.05 L145.91,454.92 L146.67,454.72 L147.42,454.44 L148.18,454.11 L148.93,453.72 L149.69,453.30 L150.44,452.83 L151.20,452.34 L151.95,451.84 L152.71,451.22 L153.47,450.39 L154.22,449.39 L154.98,448.25 L155.73,446.99 L156.49,445.64 L157.24,444.22 L158.00,442.77 L158.75,441.32 L159.51,439.88 L160.26,438.40 L161.02,436.79 L161.78,435.10 L162.53,433.33 L163.29,431.51 L164.04,429.67 L164.80,427.82 L165.55,425.99 L166.31,424.21 L167.06,422.48 L167.82,420.80 L168.57,419.13 L169.33,417.46 L170.09,415.80 L170.84,414.16 L171.60,412.53 L172.35,410.91 L173.11,409.31 L173.86,407.73 L174.62,406.18 L175.37,404.63 L176.13,403.08 L176.88,401.54 L177.64,400.02 L178.40,398.51 L179.15,397.03 L179.91,395.58 L180.66,394.17 L181.42,392.81 L182.17,391.50 L182.93,390.23 L183.68,388.99 L184.44,387.79 L185.19,386.61 L185.95,385.46 L186.71,384.34 L187.46,383.24 L188.22,382.17 L188.97,381.11 L189.73,380.08 L190.48,379.07 L191.24,378.07 L191.99,377.09 L192.75,376.13 L193.50,375.19 L194.26,374.27 L195.02,373.37 L195.77,372.50 L196.53,371.66 L197.28,370.84 L198.04,370.04 L198.79,369.25 L199.55,368.48 L200.30,367.72 L201.06,366.98 L201.81,366.27 L202.57,365.59 L203.33,364.94 L204.08,364.34 L204.84,363.78 L205.59,363.24 L206.35,362.71 L207.10,362.19 L207.86,361.70 L208.61,361.22 L209.37,360.78 L210.12,360.38 L210.88,360.01 L211.64,359.69 L212.39,359.43 L213.15,359.19 L213.90,358.95 L214.66,358.73 L215.41,358.51 L216.17,358.31 L216.92,358.14 L217.68,358.00 L218.43,357.89 L219.19,357.82 L219.95,357.80 L220.70,357.80 L221.46,357.80 L222.21,357.81 L222.97,357.83 L223.72,357.86 L224.48,357.91 L225.23,357.98 L225.99,358.07 L226.74,358.19 L227.50,358.34" stroke="#f7c77f" stroke-width="0.9" stroke-dasharray="1.3,0.4"/>
</g>
<rect x="144.4" y="335.6" width="83.1" height="130.29999999999995" fill="none" stroke="#7a7a7a" stroke-width="1.3"/>
<path d="M144.40,465.9v-2.3M151.95,465.9v-1.3M159.51,465.9v-2.3M167.06,465.9v-1.3M174.62,465.9v-2.3M182.17,465.9v-1.3M189.73,465.9v-2.3M197.28,465.9v-1.3M204.84,465.9v-2.3M212.39,465.9v-1.3M219.95,465.9v-2.3M227.50,465.9v-1.3M144.4,455.10h2.3M144.4,444.23h1.3M144.4,433.36h2.3M144.4,422.48h1.3M144.4,411.61h2.3M144.4,400.74h1.3M144.4,389.87h2.3M144.4,379.00h1.3M144.4,368.12h2.3M144.4,357.25h1.3M144.4,346.38h2.3" stroke="#555" stroke-width="0.8" fill="none"/>
<text x="144.4" y="474.8" font-size="10.2" text-anchor="middle" fill="#111">0</text>
<text x="159.5" y="474.8" font-size="10.2" text-anchor="middle" fill="#111">2</text>
<text x="174.6" y="474.8" font-size="10.2" text-anchor="middle" fill="#111">4</text>
<text x="189.7" y="474.8" font-size="10.2" text-anchor="middle" fill="#111">6</text>
<text x="204.8" y="474.8" font-size="10.2" text-anchor="middle" fill="#111">8</text>
<text x="219.9" y="474.8" font-size="10.2" text-anchor="middle" fill="#111">10</text>
<text x="141.2" y="458.5" font-size="10.2" text-anchor="end" fill="#111">0.00</text>
<text x="141.2" y="436.8" font-size="10.2" text-anchor="end" fill="#111">0.04</text>
<text x="141.2" y="415.0" font-size="10.2" text-anchor="end" fill="#111">0.08</text>
<text x="141.2" y="393.3" font-size="10.2" text-anchor="end" fill="#111">0.12</text>
<text x="141.2" y="371.5" font-size="10.2" text-anchor="end" fill="#111">0.16</text>
<text x="141.2" y="349.8" font-size="10.2" text-anchor="end" fill="#111">0.20</text>
<rect x="168.5" y="329.6" width="35" height="12" fill="#fff"/>
<text y="339.9" font-size="13.6" fill="#222"><tspan x="170.6" font-style="italic" font-size="14.2">μ</tspan><tspan x="195.1">6</tspan></text>
<path d="M180.9,334.3h8.6M180.9,337.4h8.6" stroke="#222" stroke-width="0.8" fill="none"/>
<text x="148.0" y="350.2" font-size="14.4" fill="#111">(g)</text>
<clipPath id="ph"><rect x="253" y="335.6" width="82.5" height="130.29999999999995"/></clipPath>
<g clip-path="url(#ph)" fill="none" stroke-linejoin="round">
<path d="M253.00,455.10 L253.75,455.10 L254.50,455.10 L255.25,455.10 L256.00,455.10 L256.75,455.10 L257.50,455.10 L258.25,455.10 L259.00,455.10 L259.75,455.10 L260.50,455.10 L261.25,455.10 L262.00,455.10 L262.75,455.10 L263.50,455.10 L264.25,455.10 L265.00,455.10 L265.75,455.10 L266.50,455.10 L267.25,455.10 L268.00,455.10 L268.75,455.10 L269.50,455.10 L270.25,455.10 L271.00,455.10 L271.75,455.10 L272.50,455.10 L273.25,455.10 L274.00,455.10 L274.75,455.10 L275.50,455.10 L276.25,455.10 L277.00,455.10 L277.75,455.10 L278.50,455.10 L279.25,455.10 L280.00,455.10 L280.75,455.10 L281.50,455.10 L282.25,455.10 L283.00,455.10 L283.75,455.10 L284.50,455.10 L285.25,455.10 L286.00,455.10 L286.75,455.10 L287.50,455.10 L288.25,455.10 L289.00,455.10 L289.75,455.10 L290.50,455.10 L291.25,455.10 L292.00,455.10 L292.75,455.10 L293.50,455.10 L294.25,455.10 L295.00,455.10 L295.75,455.10 L296.50,455.10 L297.25,455.10 L298.00,455.10 L298.75,455.10 L299.50,455.10 L300.25,455.10 L301.00,455.10 L301.75,455.10 L302.50,455.10 L303.25,455.10 L304.00,455.10 L304.75,455.10 L305.50,455.10 L306.25,455.10 L307.00,455.10 L307.75,455.10 L308.50,455.10 L309.25,455.10 L310.00,455.10 L310.75,455.10 L311.50,455.10 L312.25,455.10 L313.00,455.10 L313.75,455.10 L314.50,455.10 L315.25,455.10 L316.00,455.10 L316.75,455.10 L317.50,455.10 L318.25,455.10 L319.00,455.10 L319.75,455.10 L320.50,455.10 L321.25,455.10 L322.00,455.10 L322.75,455.10 L323.50,455.10 L324.25,455.10 L325.00,455.10 L325.75,455.10 L326.50,455.10 L327.25,455.10 L328.00,455.10 L328.75,455.10 L329.50,455.10 L330.25,455.10 L331.00,455.10 L331.75,455.10 L332.50,455.10 L333.25,455.10 L334.00,455.10 L334.75,455.10 L335.50,455.10" stroke="#48b6f8" stroke-width="1.1"/>
<path d="M253.00,455.10 L253.75,455.10 L254.50,455.10 L255.25,455.10 L256.00,455.10 L256.75,455.10 L257.50,455.10 L258.25,455.10 L259.00,455.10 L259.75,455.10 L260.50,455.10 L261.25,455.10 L262.00,455.10 L262.75,455.10 L263.50,455.10 L264.25,455.10 L265.00,455.10 L265.75,455.10 L266.50,455.10 L267.25,455.10 L268.00,455.10 L268.75,455.10 L269.50,455.10 L270.25,455.10 L271.00,455.10 L271.75,455.10 L272.50,455.10 L273.25,455.10 L274.00,455.10 L274.75,455.10 L275.50,455.10 L276.25,455.10 L277.00,455.10 L277.75,455.10 L278.50,455.10 L279.25,455.10 L280.00,455.10 L280.75,455.10 L281.50,455.10 L282.25,455.10 L283.00,455.10 L283.75,455.10 L284.50,455.10 L285.25,455.10 L286.00,455.10 L286.75,455.10 L287.50,455.10 L288.25,455.10 L289.00,455.10 L289.75,455.10 L290.50,455.10 L291.25,455.10 L292.00,455.10 L292.75,455.10 L293.50,455.10 L294.25,455.10 L295.00,455.10 L295.75,455.10 L296.50,455.10 L297.25,455.10 L298.00,455.10 L298.75,455.10 L299.50,455.10 L300.25,455.10 L301.00,455.10 L301.75,455.10 L302.50,455.10 L303.25,455.10 L304.00,455.10 L304.75,455.10 L305.50,455.10 L306.25,455.10 L307.00,455.10 L307.75,455.10 L308.50,455.10 L309.25,455.10 L310.00,455.10 L310.75,455.10 L311.50,455.10 L312.25,455.10 L313.00,455.10 L313.75,455.10 L314.50,455.10 L315.25,455.10 L316.00,455.10 L316.75,455.10 L317.50,455.10 L318.25,455.10 L319.00,455.10 L319.75,455.10 L320.50,455.10 L321.25,455.10 L322.00,455.10 L322.75,455.10 L323.50,455.10 L324.25,455.10 L325.00,455.10 L325.75,455.10 L326.50,455.10 L327.25,455.10 L328.00,455.10 L328.75,455.10 L329.50,455.10 L330.25,455.10 L331.00,455.10 L331.75,455.10 L332.50,455.10 L333.25,455.10 L334.00,455.10 L334.75,455.10 L335.50,455.10" stroke="#f7c77f" stroke-width="0.9" stroke-dasharray="1.3,0.4"/>
<path d="M253.00,455.10 L253.75,455.10 L254.50,455.09 L255.25,455.09 L256.00,455.08 L256.75,455.07 L257.50,455.05 L258.25,455.04 L259.00,455.02 L259.75,455.00 L260.50,454.98 L261.25,454.95 L262.00,454.93 L262.75,454.90 L263.50,454.87 L264.25,454.84 L265.00,454.81 L265.75,454.77 L266.50,454.74 L267.25,454.70 L268.00,454.67 L268.75,454.62 L269.50,454.56 L270.25,454.50 L271.00,454.41 L271.75,454.32 L272.50,454.22 L273.25,454.11 L274.00,453.99 L274.75,453.86 L275.50,453.72 L276.25,453.58 L277.00,453.42 L277.75,453.27 L278.50,453.11 L279.25,452.94 L280.00,452.77 L280.75,452.59 L281.50,452.42 L282.25,452.24 L283.00,452.06 L283.75,451.86 L284.50,451.63 L285.25,451.38 L286.00,451.10 L286.75,450.79 L287.50,450.48 L288.25,450.14 L289.00,449.80 L289.75,449.45 L290.50,449.10 L291.25,448.75 L292.00,448.40 L292.75,448.06 L293.50,447.73 L294.25,447.42 L295.00,447.12 L295.75,446.85 L296.50,446.60 L297.25,446.38 L298.00,446.19 L298.75,446.02 L299.50,445.85 L300.25,445.68 L301.00,445.51 L301.75,445.34 L302.50,445.18 L303.25,445.02 L304.00,444.86 L304.75,444.72 L305.50,444.58 L306.25,444.44 L307.00,444.32 L307.75,444.21 L308.50,444.11 L309.25,444.02 L310.00,443.95 L310.75,443.89 L311.50,443.84 L312.25,443.81 L313.00,443.81 L313.75,443.82 L314.50,443.86 L315.25,443.94 L316.00,444.03 L316.75,444.15 L317.50,444.30 L318.25,444.46 L319.00,444.64 L319.75,444.84 L320.50,445.06 L321.25,445.29 L322.00,445.53 L322.75,445.78 L323.50,446.04 L324.25,446.31 L325.00,446.59 L325.75,446.87 L326.50,447.15 L327.25,447.43 L328.00,447.72 L328.75,448.02 L329.50,448.36 L330.25,448.74 L331.00,449.16 L331.75,449.60 L332.50,450.06 L333.25,450.54 L334.00,451.04 L334.75,451.55 L335.50,452.06" stroke="#43a843" stroke-width="0.9" stroke-dasharray="1.5,0.6"/>
<path d="M253.00,455.10 L253.75,455.10 L254.50,455.09 L255.25,455.07 L256.00,455.05 L256.75,455.02 L257.50,454.98 L258.25,454.94 L259.00,454.90 L259.75,454.85 L260.50,454.79 L261.25,454.73 L262.00,454.67 L262.75,454.60 L263.50,454.52 L264.25,454.45 L265.00,454.37 L265.75,454.28 L266.50,454.20 L267.25,454.11 L268.00,454.01 L268.75,453.90 L269.50,453.75 L270.25,453.57 L271.00,453.36 L271.75,453.11 L272.50,452.84 L273.25,452.54 L274.00,452.22 L274.75,451.87 L275.50,451.50 L276.25,451.11 L277.00,450.71 L277.75,450.29 L278.50,449.86 L279.25,449.41 L280.00,448.95 L280.75,448.49 L281.50,448.02 L282.25,447.54 L283.00,447.06 L283.75,446.56 L284.50,446.01 L285.25,445.41 L286.00,444.78 L286.75,444.11 L287.50,443.40 L288.25,442.66 L289.00,441.89 L289.75,441.10 L290.50,440.29 L291.25,439.46 L292.00,438.61 L292.75,437.75 L293.50,436.88 L294.25,436.00 L295.00,435.12 L295.75,434.25 L296.50,433.37 L297.25,432.50 L298.00,431.64 L298.75,430.78 L299.50,429.90 L300.25,429.00 L301.00,428.08 L301.75,427.16 L302.50,426.22 L303.25,425.26 L304.00,424.30 L304.75,423.33 L305.50,422.35 L306.25,421.37 L307.00,420.39 L307.75,419.40 L308.50,418.41 L309.25,417.42 L310.00,416.43 L310.75,415.45 L311.50,414.47 L312.25,413.49 L313.00,412.53 L313.75,411.56 L314.50,410.57 L315.25,409.58 L316.00,408.57 L316.75,407.55 L317.50,406.53 L318.25,405.50 L319.00,404.48 L319.75,403.46 L320.50,402.45 L321.25,401.44 L322.00,400.44 L322.75,399.46 L323.50,398.50 L324.25,397.55 L325.00,396.63 L325.75,395.73 L326.50,394.85 L327.25,394.01 L328.00,393.20 L328.75,392.41 L329.50,391.65 L330.25,390.91 L331.00,390.19 L331.75,389.49 L332.50,388.80 L333.25,388.14 L334.00,387.49 L334.75,386.86 L335.50,386.25" stroke="#ef4444" stroke-width="1.1" stroke-dasharray="7,0.6,1,0.6"/>
<path d="M253.00,455.10 L253.75,455.10 L254.50,455.08 L255.25,455.06 L256.00,455.03 L256.75,454.99 L257.50,454.94 L258.25,454.88 L259.00,454.82 L259.75,454.75 L260.50,454.67 L261.25,454.59 L262.00,454.50 L262.75,454.40 L263.50,454.30 L264.25,454.19 L265.00,454.08 L265.75,453.96 L266.50,453.84 L267.25,453.71 L268.00,453.58 L268.75,453.42 L269.50,453.20 L270.25,452.93 L271.00,452.60 L271.75,452.23 L272.50,451.82 L273.25,451.36 L274.00,450.87 L274.75,450.34 L275.50,449.78 L276.25,449.19 L277.00,448.58 L277.75,447.94 L278.50,447.29 L279.25,446.62 L280.00,445.94 L280.75,445.25 L281.50,444.55 L282.25,443.85 L283.00,443.15 L283.75,442.43 L284.50,441.64 L285.25,440.80 L286.00,439.91 L286.75,438.97 L287.50,437.99 L288.25,436.98 L289.00,435.92 L289.75,434.84 L290.50,433.73 L291.25,432.60 L292.00,431.45 L292.75,430.29 L293.50,429.12 L294.25,427.94 L295.00,426.76 L295.75,425.58 L296.50,424.40 L297.25,423.24 L298.00,422.09 L298.75,420.92 L299.50,419.70 L300.25,418.44 L301.00,417.15 L301.75,415.83 L302.50,414.49 L303.25,413.13 L304.00,411.77 L304.75,410.40 L305.50,409.04 L306.25,407.69 L307.00,406.35 L307.75,405.04 L308.50,403.77 L309.25,402.53 L310.00,401.33 L310.75,400.18 L311.50,399.09 L312.25,398.06 L313.00,397.11 L313.75,396.19 L314.50,395.28 L315.25,394.38 L316.00,393.49 L316.75,392.61 L317.50,391.75 L318.25,390.91 L319.00,390.08 L319.75,389.28 L320.50,388.50 L321.25,387.75 L322.00,387.03 L322.75,386.34 L323.50,385.68 L324.25,385.06 L325.00,384.47 L325.75,383.93 L326.50,383.43 L327.25,382.97 L328.00,382.56 L328.75,382.17 L329.50,381.81 L330.25,381.46 L331.00,381.13 L331.75,380.83 L332.50,380.55 L333.25,380.29 L334.00,380.07 L334.75,379.88 L335.50,379.73" stroke="#b690f3" stroke-width="1.1" stroke-dasharray="1.1,1.7"/>
<path d="M253.00,455.10 L253.75,455.10 L254.50,455.09 L255.25,455.08 L256.00,455.06 L256.75,455.04 L257.50,455.01 L258.25,454.98 L259.00,454.94 L259.75,454.91 L260.50,454.86 L261.25,454.81 L262.00,454.76 L262.75,454.71 L263.50,454.65 L264.25,454.59 L265.00,454.52 L265.75,454.45 L266.50,454.38 L267.25,454.31 L268.00,454.23 L268.75,454.13 L269.50,453.98 L270.25,453.79 L271.00,453.56 L271.75,453.29 L272.50,452.99 L273.25,452.65 L274.00,452.28 L274.75,451.88 L275.50,451.45 L276.25,451.00 L277.00,450.53 L277.75,450.03 L278.50,449.52 L279.25,448.99 L280.00,448.45 L280.75,447.90 L281.50,447.34 L282.25,446.77 L283.00,446.19 L283.75,445.59 L284.50,444.91 L285.25,444.18 L286.00,443.38 L286.75,442.54 L287.50,441.64 L288.25,440.70 L289.00,439.71 L289.75,438.69 L290.50,437.63 L291.25,436.54 L292.00,435.43 L292.75,434.29 L293.50,433.13 L294.25,431.96 L295.00,430.77 L295.75,429.58 L296.50,428.38 L297.25,427.19 L298.00,426.00 L298.75,424.79 L299.50,423.54 L300.25,422.27 L301.00,420.96 L301.75,419.62 L302.50,418.25 L303.25,416.85 L304.00,415.43 L304.75,413.99 L305.50,412.52 L306.25,411.04 L307.00,409.54 L307.75,408.02 L308.50,406.49 L309.25,404.94 L310.00,403.39 L310.75,401.83 L311.50,400.26 L312.25,398.68 L313.00,397.11 L313.75,395.51 L314.50,393.87 L315.25,392.19 L316.00,390.49 L316.75,388.75 L317.50,386.99 L318.25,385.21 L319.00,383.42 L319.75,381.62 L320.50,379.81 L321.25,378.00 L322.00,376.20 L322.75,374.40 L323.50,372.61 L324.25,370.83 L325.00,369.08 L325.75,367.35 L326.50,365.65 L327.25,363.99 L328.00,362.36 L328.75,360.76 L329.50,359.18 L330.25,357.62 L331.00,356.08 L331.75,354.55 L332.50,353.04 L333.25,351.55 L334.00,350.07 L334.75,348.61 L335.50,347.15" stroke="#a7775f" stroke-width="0.9" stroke-dasharray="1.1,0.5"/>
</g>
<rect x="253" y="335.6" width="82.5" height="130.29999999999995" fill="none" stroke="#7a7a7a" stroke-width="1.3"/>
<path d="M253.00,465.9v-2.3M260.50,465.9v-1.3M268.00,465.9v-2.3M275.50,465.9v-1.3M283.00,465.9v-2.3M290.50,465.9v-1.3M298.00,465.9v-2.3M305.50,465.9v-1.3M313.00,465.9v-2.3M320.50,465.9v-1.3M328.00,465.9v-2.3M335.50,465.9v-1.3M253,455.10h2.3M253,444.24h1.3M253,433.38h2.3M253,422.52h1.3M253,411.66h2.3M253,400.80h1.3M253,389.94h2.3M253,379.08h1.3M253,368.22h2.3M253,357.36h1.3M253,346.50h2.3" stroke="#555" stroke-width="0.8" fill="none"/>
<text x="253.0" y="474.8" font-size="10.2" text-anchor="middle" fill="#111">0</text>
<text x="268.0" y="474.8" font-size="10.2" text-anchor="middle" fill="#111">2</text>
<text x="283.0" y="474.8" font-size="10.2" text-anchor="middle" fill="#111">4</text>
<text x="298.0" y="474.8" font-size="10.2" text-anchor="middle" fill="#111">6</text>
<text x="313.0" y="474.8" font-size="10.2" text-anchor="middle" fill="#111">8</text>
<text x="328.0" y="474.8" font-size="10.2" text-anchor="middle" fill="#111">10</text>
<text x="249.8" y="458.5" font-size="10.2" text-anchor="end" fill="#111">0.00</text>
<text x="249.8" y="436.8" font-size="10.2" text-anchor="end" fill="#111">0.01</text>
<text x="249.8" y="415.1" font-size="10.2" text-anchor="end" fill="#111">0.02</text>
<text x="249.8" y="393.3" font-size="10.2" text-anchor="end" fill="#111">0.03</text>
<text x="249.8" y="371.6" font-size="10.2" text-anchor="end" fill="#111">0.04</text>
<text x="249.8" y="349.9" font-size="10.2" text-anchor="end" fill="#111">0.05</text>
<rect x="276.9" y="329.6" width="35" height="12" fill="#fff"/>
<text y="339.9" font-size="13.6" fill="#222"><tspan x="278.9" font-style="italic" font-size="14.2">μ</tspan><tspan x="303.4">8</tspan></text>
<path d="M289.2,334.3h8.6M289.2,337.4h8.6" stroke="#222" stroke-width="0.8" fill="none"/>
<text x="256.4" y="350.2" font-size="14.4" fill="#111">(h)</text>
<rect x="43.5" y="215.5" width="90" height="85" fill="#fff" stroke="#555" stroke-width="0.9"/>
<line x1="46.8" y1="224.0" x2="66" y2="224.0" stroke="#48b6f8" stroke-width="1"/>
<text y="227.1" font-size="10.4" fill="#333"><tspan x="70.2">(</tspan><tspan x="73" font-style="italic">J</tspan><tspan x="77.7" font-size="7.2" font-style="italic" dy="2">k</tspan><tspan x="80.9" dy="-2">,</tspan><tspan x="85" font-style="italic">J</tspan><tspan x="90.4" font-size="8" dy="-2.2">′</tspan><tspan x="89.7" font-size="7.2" font-style="italic" dy="4.4">k</tspan><tspan x="93.2" dy="-2.2">)</tspan><tspan x="111.3">(</tspan><tspan x="114.4">1</tspan><tspan x="119.2">,</tspan><tspan x="123.6">1</tspan><tspan x="128.3">)</tspan></text>
<path d="M100,222.9h7M100,225.3h7" stroke="#333" stroke-width="0.7" fill="none"/>
<line x1="46.8" y1="237.7" x2="66" y2="237.7" stroke="#f7c77f" stroke-width="1" stroke-dasharray="1.3,0.4"/>
<text y="240.8" font-size="10.4" fill="#333"><tspan x="70.2">(</tspan><tspan x="73" font-style="italic">J</tspan><tspan x="77.7" font-size="7.2" font-style="italic" dy="2">k</tspan><tspan x="80.9" dy="-2">,</tspan><tspan x="85" font-style="italic">J</tspan><tspan x="90.4" font-size="8" dy="-2.2">′</tspan><tspan x="89.7" font-size="7.2" font-style="italic" dy="4.4">k</tspan><tspan x="93.2" dy="-2.2">)</tspan><tspan x="111.3">(</tspan><tspan x="114.4">1</tspan><tspan x="119.2">,</tspan><tspan x="123.6">3</tspan><tspan x="128.3">)</tspan></text>
<path d="M100,236.6h7M100,239.0h7" stroke="#333" stroke-width="0.7" fill="none"/>
<line x1="46.8" y1="251.4" x2="66" y2="251.4" stroke="#43a843" stroke-width="1" stroke-dasharray="1.5,0.6"/>
<text y="254.5" font-size="10.4" fill="#333"><tspan x="70.2">(</tspan><tspan x="73" font-style="italic">J</tspan><tspan x="77.7" font-size="7.2" font-style="italic" dy="2">k</tspan><tspan x="80.9" dy="-2">,</tspan><tspan x="85" font-style="italic">J</tspan><tspan x="90.4" font-size="8" dy="-2.2">′</tspan><tspan x="89.7" font-size="7.2" font-style="italic" dy="4.4">k</tspan><tspan x="93.2" dy="-2.2">)</tspan><tspan x="111.3">(</tspan><tspan x="114.4">1</tspan><tspan x="119.2">,</tspan><tspan x="123.6">5</tspan><tspan x="128.3">)</tspan></text>
<path d="M100,250.3h7M100,252.7h7" stroke="#333" stroke-width="0.7" fill="none"/>
<line x1="46.8" y1="265.2" x2="66" y2="265.2" stroke="#ef4444" stroke-width="1" stroke-dasharray="7,0.6,1,0.6"/>
<text y="268.3" font-size="10.4" fill="#333"><tspan x="70.2">(</tspan><tspan x="73" font-style="italic">J</tspan><tspan x="77.7" font-size="7.2" font-style="italic" dy="2">k</tspan><tspan x="80.9" dy="-2">,</tspan><tspan x="85" font-style="italic">J</tspan><tspan x="90.4" font-size="8" dy="-2.2">′</tspan><tspan x="89.7" font-size="7.2" font-style="italic" dy="4.4">k</tspan><tspan x="93.2" dy="-2.2">)</tspan><tspan x="111.3">(</tspan><tspan x="114.4">3</tspan><tspan x="119.2">,</tspan><tspan x="123.6">3</tspan><tspan x="128.3">)</tspan></text>
<path d="M100,264.1h7M100,266.5h7" stroke="#333" stroke-width="0.7" fill="none"/>
<line x1="46.8" y1="278.9" x2="66" y2="278.9" stroke="#b690f3" stroke-width="1" stroke-dasharray="1.1,1.7"/>
<text y="282.0" font-size="10.4" fill="#333"><tspan x="70.2">(</tspan><tspan x="73" font-style="italic">J</tspan><tspan x="77.7" font-size="7.2" font-style="italic" dy="2">k</tspan><tspan x="80.9" dy="-2">,</tspan><tspan x="85" font-style="italic">J</tspan><tspan x="90.4" font-size="8" dy="-2.2">′</tspan><tspan x="89.7" font-size="7.2" font-style="italic" dy="4.4">k</tspan><tspan x="93.2" dy="-2.2">)</tspan><tspan x="111.3">(</tspan><tspan x="114.4">3</tspan><tspan x="119.2">,</tspan><tspan x="123.6">5</tspan><tspan x="128.3">)</tspan></text>
<path d="M100,277.8h7M100,280.2h7" stroke="#333" stroke-width="0.7" fill="none"/>
<line x1="46.8" y1="292.6" x2="66" y2="292.6" stroke="#a7775f" stroke-width="1" stroke-dasharray="1.1,0.5"/>
<text y="295.7" font-size="10.4" fill="#333"><tspan x="70.2">(</tspan><tspan x="73" font-style="italic">J</tspan><tspan x="77.7" font-size="7.2" font-style="italic" dy="2">k</tspan><tspan x="80.9" dy="-2">,</tspan><tspan x="85" font-style="italic">J</tspan><tspan x="90.4" font-size="8" dy="-2.2">′</tspan><tspan x="89.7" font-size="7.2" font-style="italic" dy="4.4">k</tspan><tspan x="93.2" dy="-2.2">)</tspan><tspan x="111.3">(</tspan><tspan x="114.4">5</tspan><tspan x="119.2">,</tspan><tspan x="123.6">5</tspan><tspan x="128.3">)</tspan></text>
<path d="M100,291.5h7M100,293.9h7" stroke="#333" stroke-width="0.7" fill="none"/>
<text x="1.2" y="256.4" font-size="17.2" fill="#333"><tspan font-style="italic">β</tspan><tspan font-style="italic" font-size="14.2" dy="3.2" dx="-0.2">μ</tspan></text>
<text x="1.2" y="408" font-size="17.2" fill="#333"><tspan font-style="italic">β</tspan><tspan font-style="italic" font-size="14.2" dy="3.2" dx="-0.2">μ</tspan></text>
<text x="119.3" y="493.7" font-size="16.2" fill="#222" textLength="133.5" lengthAdjust="spacingAndGlyphs">Magnetic Field (G)</text>
</svg></body></html>
